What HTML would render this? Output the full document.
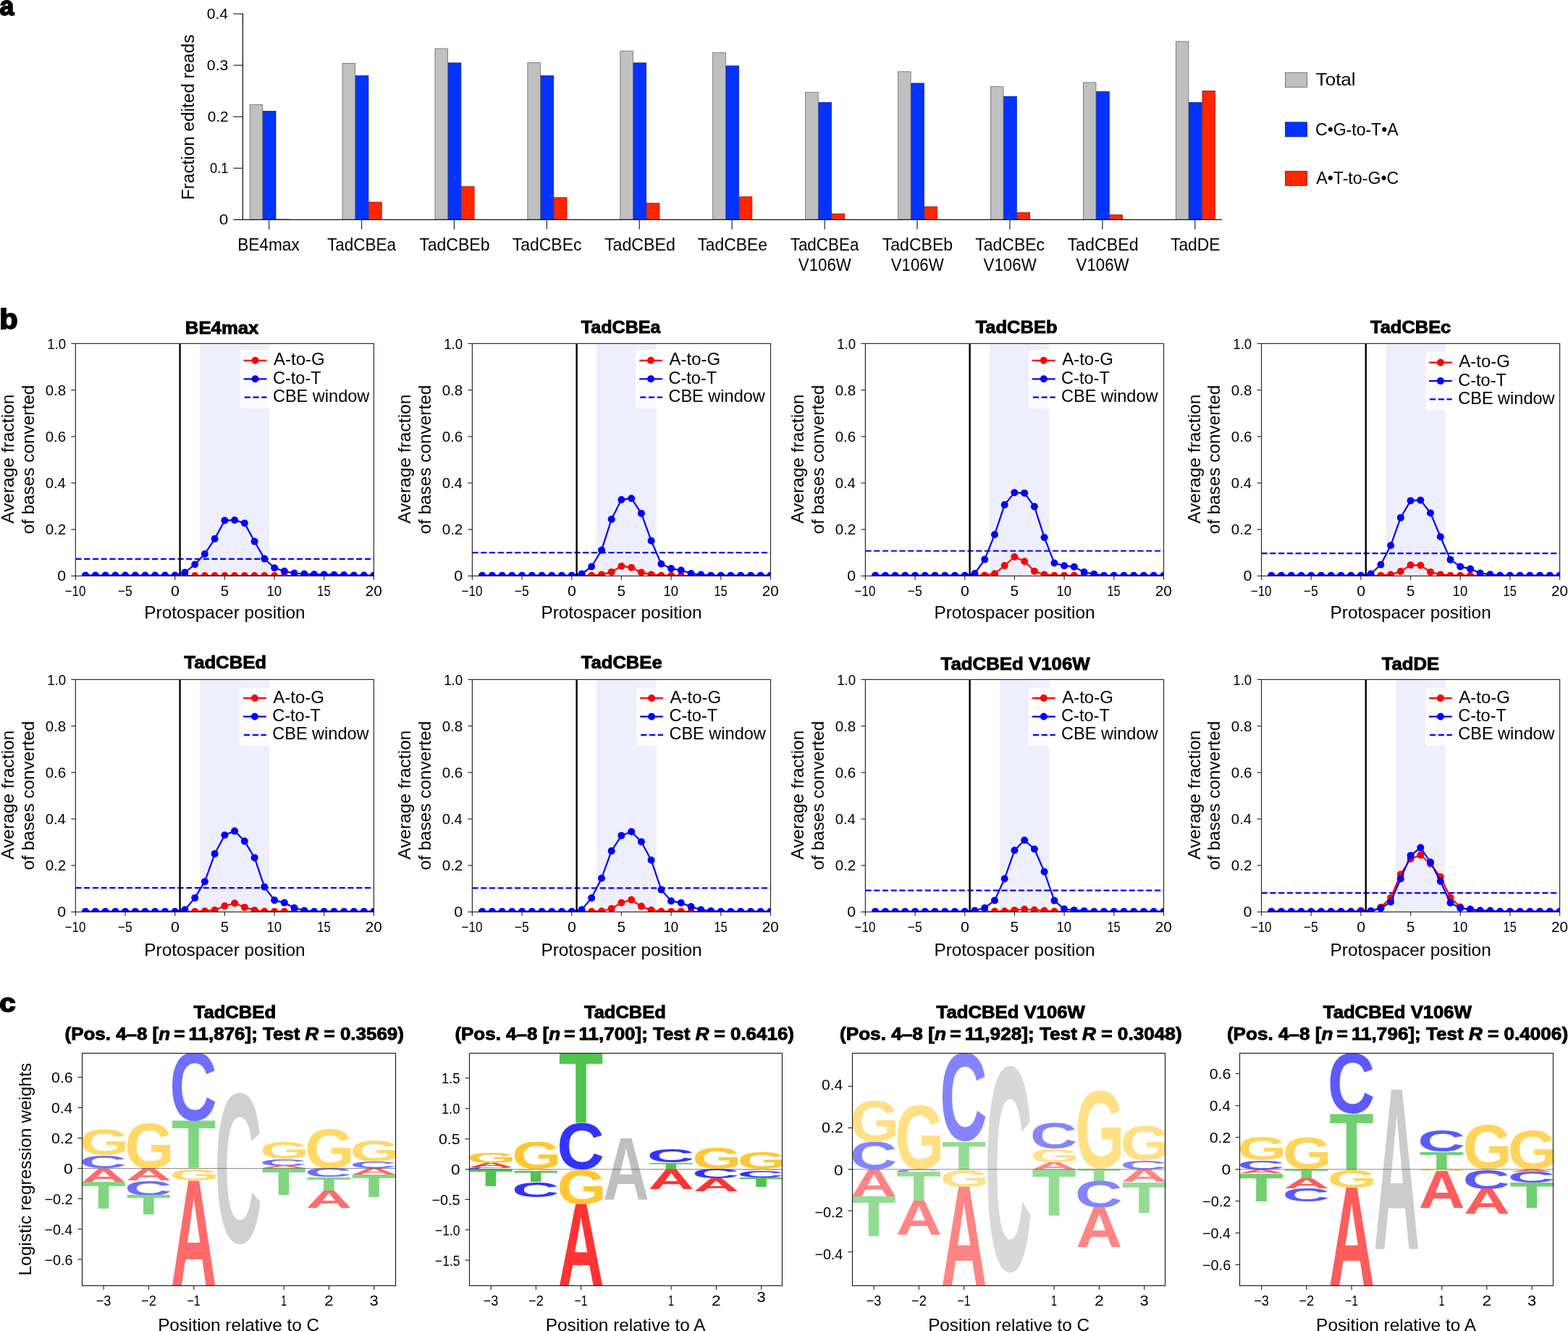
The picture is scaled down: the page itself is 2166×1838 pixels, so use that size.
<!DOCTYPE html>
<html lang="en">
<head>
<meta charset="utf-8">
<title>Figure</title>
<style>
html,body{margin:0;padding:0;background:#fff;}
body{width:2166px;height:1838px;overflow:hidden;}
svg{display:block;font-family:'Liberation Sans', sans-serif;}
</style>
</head>
<body>
<svg width="2166" height="1838" viewBox="0 0 2166 1838">
<defs>
<clipPath id="clipb0"><rect x="104.35" y="474.45" width="412.05" height="320.90"/></clipPath>
<clipPath id="clipb1"><rect x="652.40" y="474.45" width="412.05" height="320.90"/></clipPath>
<clipPath id="clipb2"><rect x="1195.40" y="474.45" width="412.05" height="320.90"/></clipPath>
<clipPath id="clipb3"><rect x="1742.55" y="474.45" width="412.05" height="320.90"/></clipPath>
<clipPath id="clipb4"><rect x="104.35" y="938.40" width="412.05" height="320.90"/></clipPath>
<clipPath id="clipb5"><rect x="652.40" y="938.40" width="412.05" height="320.90"/></clipPath>
<clipPath id="clipb6"><rect x="1195.40" y="938.40" width="412.05" height="320.90"/></clipPath>
<clipPath id="clipb7"><rect x="1742.55" y="938.40" width="412.05" height="320.90"/></clipPath>
<clipPath id="clipc0"><rect x="113.50" y="1454.45" width="433.00" height="321.00"/></clipPath>
<clipPath id="clipc1"><rect x="648.50" y="1454.45" width="432.00" height="321.00"/></clipPath>
<clipPath id="clipc2"><rect x="1177.50" y="1454.45" width="432.00" height="321.00"/></clipPath>
<clipPath id="clipc3"><rect x="1712.50" y="1454.45" width="433.00" height="321.00"/></clipPath>
</defs>
<rect x="0" y="0" width="2166" height="1838" fill="#ffffff"/>
<g id="panel-a">
<text x="-0.44" y="20.90" font-size="36.00" font-weight="bold" textLength="19.82" lengthAdjust="spacingAndGlyphs" fill="#000" stroke="#000" stroke-width="1.80" stroke-linejoin="miter" stroke-miterlimit="2">a</text>
<rect x="345.10" y="144.65" width="17.60" height="158.65" fill="#c0c0c0" stroke="#5a5a5a" stroke-width="0.70"/>
<rect x="363.40" y="153.45" width="17.60" height="149.85" fill="#0433ff" stroke="#021c8c" stroke-width="0.70"/>
<line x1="381.35" y1="303.00" x2="399.65" y2="303.00" stroke="#333" stroke-width="0.80"/>
<rect x="473.02" y="87.35" width="17.60" height="215.95" fill="#c0c0c0" stroke="#5a5a5a" stroke-width="0.70"/>
<rect x="491.32" y="104.55" width="17.60" height="198.75" fill="#0433ff" stroke="#021c8c" stroke-width="0.70"/>
<rect x="509.62" y="279.05" width="17.60" height="24.25" fill="#ff2600" stroke="#8c1500" stroke-width="0.70"/>
<rect x="600.94" y="67.05" width="17.60" height="236.25" fill="#c0c0c0" stroke="#5a5a5a" stroke-width="0.70"/>
<rect x="619.24" y="86.85" width="17.60" height="216.45" fill="#0433ff" stroke="#021c8c" stroke-width="0.70"/>
<rect x="637.54" y="257.65" width="17.60" height="45.65" fill="#ff2600" stroke="#8c1500" stroke-width="0.70"/>
<rect x="728.86" y="86.35" width="17.60" height="216.95" fill="#c0c0c0" stroke="#5a5a5a" stroke-width="0.70"/>
<rect x="747.16" y="104.55" width="17.60" height="198.75" fill="#0433ff" stroke="#021c8c" stroke-width="0.70"/>
<rect x="765.46" y="272.75" width="17.60" height="30.55" fill="#ff2600" stroke="#8c1500" stroke-width="0.70"/>
<rect x="856.78" y="70.65" width="17.60" height="232.65" fill="#c0c0c0" stroke="#5a5a5a" stroke-width="0.70"/>
<rect x="875.08" y="86.85" width="17.60" height="216.45" fill="#0433ff" stroke="#021c8c" stroke-width="0.70"/>
<rect x="893.38" y="280.65" width="17.60" height="22.65" fill="#ff2600" stroke="#8c1500" stroke-width="0.70"/>
<rect x="984.70" y="72.75" width="17.60" height="230.55" fill="#c0c0c0" stroke="#5a5a5a" stroke-width="0.70"/>
<rect x="1003.00" y="90.95" width="17.60" height="212.35" fill="#0433ff" stroke="#021c8c" stroke-width="0.70"/>
<rect x="1021.30" y="271.75" width="17.60" height="31.55" fill="#ff2600" stroke="#8c1500" stroke-width="0.70"/>
<rect x="1112.62" y="127.45" width="17.60" height="175.85" fill="#c0c0c0" stroke="#5a5a5a" stroke-width="0.70"/>
<rect x="1130.92" y="141.55" width="17.60" height="161.75" fill="#0433ff" stroke="#021c8c" stroke-width="0.70"/>
<rect x="1149.22" y="295.15" width="17.60" height="8.15" fill="#ff2600" stroke="#8c1500" stroke-width="0.70"/>
<rect x="1240.54" y="98.85" width="17.60" height="204.45" fill="#c0c0c0" stroke="#5a5a5a" stroke-width="0.70"/>
<rect x="1258.84" y="114.95" width="17.60" height="188.35" fill="#0433ff" stroke="#021c8c" stroke-width="0.70"/>
<rect x="1277.14" y="285.35" width="17.60" height="17.95" fill="#ff2600" stroke="#8c1500" stroke-width="0.70"/>
<rect x="1368.46" y="119.65" width="17.60" height="183.65" fill="#c0c0c0" stroke="#5a5a5a" stroke-width="0.70"/>
<rect x="1386.76" y="133.15" width="17.60" height="170.15" fill="#0433ff" stroke="#021c8c" stroke-width="0.70"/>
<rect x="1405.06" y="293.65" width="17.60" height="9.65" fill="#ff2600" stroke="#8c1500" stroke-width="0.70"/>
<rect x="1496.38" y="113.95" width="17.60" height="189.35" fill="#c0c0c0" stroke="#5a5a5a" stroke-width="0.70"/>
<rect x="1514.68" y="126.45" width="17.60" height="176.85" fill="#0433ff" stroke="#021c8c" stroke-width="0.70"/>
<rect x="1532.98" y="296.75" width="17.60" height="6.55" fill="#ff2600" stroke="#8c1500" stroke-width="0.70"/>
<rect x="1624.30" y="57.15" width="17.60" height="246.15" fill="#c0c0c0" stroke="#5a5a5a" stroke-width="0.70"/>
<rect x="1642.60" y="141.55" width="17.60" height="161.75" fill="#0433ff" stroke="#021c8c" stroke-width="0.70"/>
<rect x="1660.90" y="125.35" width="17.60" height="177.95" fill="#ff2600" stroke="#8c1500" stroke-width="0.70"/>
<line x1="335.40" y1="18.50" x2="335.40" y2="303.90" stroke="#111" stroke-width="1.25"/>
<line x1="322.40" y1="303.30" x2="1688.00" y2="303.30" stroke="#111" stroke-width="1.25"/>
<text x="302.82" y="310.40" font-size="19.80" textLength="12.57" lengthAdjust="spacingAndGlyphs" fill="#000">0</text>
<line x1="322.40" y1="232.25" x2="335.40" y2="232.25" stroke="#2b2b2b" stroke-width="1.25"/>
<text x="289.99" y="239.35" font-size="19.80" textLength="25.41" lengthAdjust="spacingAndGlyphs" fill="#000">0.1</text>
<line x1="322.40" y1="161.20" x2="335.40" y2="161.20" stroke="#2b2b2b" stroke-width="1.25"/>
<text x="286.69" y="168.30" font-size="19.80" textLength="28.85" lengthAdjust="spacingAndGlyphs" fill="#000">0.2</text>
<line x1="322.40" y1="90.15" x2="335.40" y2="90.15" stroke="#2b2b2b" stroke-width="1.25"/>
<text x="285.87" y="97.25" font-size="19.80" textLength="29.57" lengthAdjust="spacingAndGlyphs" fill="#000">0.3</text>
<line x1="322.40" y1="19.10" x2="335.40" y2="19.10" stroke="#2b2b2b" stroke-width="1.25"/>
<text x="285.67" y="26.20" font-size="19.80" textLength="29.45" lengthAdjust="spacingAndGlyphs" fill="#000">0.4</text>
<line x1="371.60" y1="303.30" x2="371.60" y2="316.70" stroke="#2b2b2b" stroke-width="1.25"/>
<text x="328.14" y="346.10" font-size="24.20" textLength="85.70" lengthAdjust="spacingAndGlyphs" fill="#000">BE4max</text>
<line x1="499.52" y1="303.30" x2="499.52" y2="316.70" stroke="#2b2b2b" stroke-width="1.25"/>
<text x="452.08" y="346.10" font-size="24.20" textLength="94.79" lengthAdjust="spacingAndGlyphs" fill="#000">TadCBEa</text>
<line x1="627.44" y1="303.30" x2="627.44" y2="316.70" stroke="#2b2b2b" stroke-width="1.25"/>
<text x="579.19" y="346.10" font-size="24.20" textLength="97.35" lengthAdjust="spacingAndGlyphs" fill="#000">TadCBEb</text>
<line x1="755.36" y1="303.30" x2="755.36" y2="316.70" stroke="#2b2b2b" stroke-width="1.25"/>
<text x="707.76" y="346.10" font-size="24.20" textLength="95.69" lengthAdjust="spacingAndGlyphs" fill="#000">TadCBEc</text>
<line x1="883.28" y1="303.30" x2="883.28" y2="316.70" stroke="#2b2b2b" stroke-width="1.25"/>
<text x="834.92" y="346.10" font-size="24.20" textLength="98.07" lengthAdjust="spacingAndGlyphs" fill="#000">TadCBEd</text>
<line x1="1011.20" y1="303.30" x2="1011.20" y2="316.70" stroke="#2b2b2b" stroke-width="1.25"/>
<text x="963.40" y="346.10" font-size="24.20" textLength="96.49" lengthAdjust="spacingAndGlyphs" fill="#000">TadCBEe</text>
<line x1="1139.12" y1="303.30" x2="1139.12" y2="316.70" stroke="#2b2b2b" stroke-width="1.25"/>
<text x="1091.68" y="346.10" font-size="24.20" textLength="94.79" lengthAdjust="spacingAndGlyphs" fill="#000">TadCBEa</text>
<text x="1102.77" y="373.70" font-size="24.20" textLength="73.07" lengthAdjust="spacingAndGlyphs" fill="#000">V106W</text>
<line x1="1267.04" y1="303.30" x2="1267.04" y2="316.70" stroke="#2b2b2b" stroke-width="1.25"/>
<text x="1218.79" y="346.10" font-size="24.20" textLength="97.35" lengthAdjust="spacingAndGlyphs" fill="#000">TadCBEb</text>
<text x="1230.69" y="373.70" font-size="24.20" textLength="73.07" lengthAdjust="spacingAndGlyphs" fill="#000">V106W</text>
<line x1="1394.96" y1="303.30" x2="1394.96" y2="316.70" stroke="#2b2b2b" stroke-width="1.25"/>
<text x="1347.36" y="346.10" font-size="24.20" textLength="95.69" lengthAdjust="spacingAndGlyphs" fill="#000">TadCBEc</text>
<text x="1358.61" y="373.70" font-size="24.20" textLength="73.07" lengthAdjust="spacingAndGlyphs" fill="#000">V106W</text>
<line x1="1522.88" y1="303.30" x2="1522.88" y2="316.70" stroke="#2b2b2b" stroke-width="1.25"/>
<text x="1474.52" y="346.10" font-size="24.20" textLength="98.07" lengthAdjust="spacingAndGlyphs" fill="#000">TadCBEd</text>
<text x="1486.53" y="373.70" font-size="24.20" textLength="73.07" lengthAdjust="spacingAndGlyphs" fill="#000">V106W</text>
<line x1="1650.80" y1="303.30" x2="1650.80" y2="316.70" stroke="#2b2b2b" stroke-width="1.25"/>
<text x="1617.01" y="346.10" font-size="24.20" textLength="68.44" lengthAdjust="spacingAndGlyphs" fill="#000">TadDE</text>
<text transform="translate(267.50 275.99) rotate(-90)" font-size="24.20" textLength="228.27" lengthAdjust="spacingAndGlyphs" fill="#000">Fraction edited reads</text>
<rect x="1775.50" y="100.30" width="30.10" height="20.00" fill="#c0c0c0" stroke="#5a5a5a" stroke-width="0.80"/>
<text x="1817.64" y="118.00" font-size="24.20" textLength="55.01" lengthAdjust="spacingAndGlyphs" fill="#000">Total</text>
<rect x="1775.50" y="168.80" width="30.10" height="20.00" fill="#0433ff" stroke="#021c8c" stroke-width="0.80"/>
<text x="1817.03" y="186.60" font-size="24.20" textLength="114.51" lengthAdjust="spacingAndGlyphs" fill="#000">C•G-to-T•A</text>
<rect x="1775.50" y="236.30" width="30.10" height="20.00" fill="#ff2600" stroke="#8c1500" stroke-width="0.80"/>
<text x="1818.16" y="254.30" font-size="24.20" textLength="114.22" lengthAdjust="spacingAndGlyphs" fill="#000">A•T-to-G•C</text>
</g>
<g id="panel-b">
<text x="-0.85" y="453.60" font-size="38.60" font-weight="bold" textLength="25.46" lengthAdjust="spacingAndGlyphs" fill="#000" stroke="#000" stroke-width="1.80" stroke-linejoin="miter" stroke-miterlimit="2">b</text>
<g id="plot-b0">
<text x="255.83" y="460.60" font-size="24.80" font-weight="bold" textLength="101.61" lengthAdjust="spacingAndGlyphs" fill="#000" stroke="#000" stroke-width="0.90" stroke-linejoin="miter" stroke-miterlimit="2">BE4max</text>
<g clip-path="url(#clipb0)">
<rect x="276.04" y="474.45" width="96.14" height="320.90" fill="#eeeefd" stroke="none" stroke-width="0.00"/>
<line x1="104.35" y1="771.96" x2="516.40" y2="771.96" stroke="#0000ff" stroke-width="2.20" stroke-dasharray="8.2 3.55"/>
<polyline fill="none" stroke="#ff0000" stroke-width="2.2" stroke-linejoin="round" points="118.1,795.0 131.8,795.0 145.6,795.0 159.3,795.0 173.0,795.0 186.8,795.0 200.5,795.0 214.2,795.0 228.0,795.0 241.7,795.0 255.4,795.0 269.2,795.0 282.9,795.0 296.6,795.0 310.4,795.0 324.1,795.0 337.8,795.0 351.6,795.0 365.3,795.0 379.1,795.0 392.8,795.0 406.5,795.0 420.3,795.0 434.0,795.0 447.7,795.0 461.5,795.0 475.2,795.0 488.9,795.0 502.7,795.0 516.4,795.0"/>
<g fill="#ff0000"><circle cx="118.1" cy="795.0" r="5.0"/><circle cx="131.8" cy="795.0" r="5.0"/><circle cx="145.6" cy="795.0" r="5.0"/><circle cx="159.3" cy="795.0" r="5.0"/><circle cx="173.0" cy="795.0" r="5.0"/><circle cx="186.8" cy="795.0" r="5.0"/><circle cx="200.5" cy="795.0" r="5.0"/><circle cx="214.2" cy="795.0" r="5.0"/><circle cx="228.0" cy="795.0" r="5.0"/><circle cx="241.7" cy="795.0" r="5.0"/><circle cx="255.4" cy="795.0" r="5.0"/><circle cx="269.2" cy="795.0" r="5.0"/><circle cx="282.9" cy="795.0" r="5.0"/><circle cx="296.6" cy="795.0" r="5.0"/><circle cx="310.4" cy="795.0" r="5.0"/><circle cx="324.1" cy="795.0" r="5.0"/><circle cx="337.8" cy="795.0" r="5.0"/><circle cx="351.6" cy="795.0" r="5.0"/><circle cx="365.3" cy="795.0" r="5.0"/><circle cx="379.1" cy="795.0" r="5.0"/><circle cx="392.8" cy="795.0" r="5.0"/><circle cx="406.5" cy="795.0" r="5.0"/><circle cx="420.3" cy="795.0" r="5.0"/><circle cx="434.0" cy="795.0" r="5.0"/><circle cx="447.7" cy="795.0" r="5.0"/><circle cx="461.5" cy="795.0" r="5.0"/><circle cx="475.2" cy="795.0" r="5.0"/><circle cx="488.9" cy="795.0" r="5.0"/><circle cx="502.7" cy="795.0" r="5.0"/><circle cx="516.4" cy="795.0" r="5.0"/></g>
<polyline fill="none" stroke="#0000ff" stroke-width="2.2" stroke-linejoin="round" points="118.1,794.5 131.8,794.5 145.6,794.5 159.3,794.5 173.0,794.5 186.8,794.5 200.5,794.5 214.2,794.5 228.0,794.5 241.7,794.5 255.4,790.4 269.2,779.5 282.9,765.0 296.6,744.1 310.4,718.8 324.1,718.2 337.8,722.4 351.6,747.7 365.3,771.6 379.1,784.2 392.8,788.8 406.5,791.5 420.3,792.5 434.0,793.1 447.7,793.4 461.5,793.7 475.2,794.1 488.9,794.5 502.7,794.5 516.4,794.5"/>
<g fill="#0000ff"><circle cx="118.1" cy="794.5" r="5.0"/><circle cx="131.8" cy="794.5" r="5.0"/><circle cx="145.6" cy="794.5" r="5.0"/><circle cx="159.3" cy="794.5" r="5.0"/><circle cx="173.0" cy="794.5" r="5.0"/><circle cx="186.8" cy="794.5" r="5.0"/><circle cx="200.5" cy="794.5" r="5.0"/><circle cx="214.2" cy="794.5" r="5.0"/><circle cx="228.0" cy="794.5" r="5.0"/><circle cx="241.7" cy="794.5" r="5.0"/><circle cx="255.4" cy="790.4" r="5.0"/><circle cx="269.2" cy="779.5" r="5.0"/><circle cx="282.9" cy="765.0" r="5.0"/><circle cx="296.6" cy="744.1" r="5.0"/><circle cx="310.4" cy="718.8" r="5.0"/><circle cx="324.1" cy="718.2" r="5.0"/><circle cx="337.8" cy="722.4" r="5.0"/><circle cx="351.6" cy="747.7" r="5.0"/><circle cx="365.3" cy="771.6" r="5.0"/><circle cx="379.1" cy="784.2" r="5.0"/><circle cx="392.8" cy="788.8" r="5.0"/><circle cx="406.5" cy="791.5" r="5.0"/><circle cx="420.3" cy="792.5" r="5.0"/><circle cx="434.0" cy="793.1" r="5.0"/><circle cx="447.7" cy="793.4" r="5.0"/><circle cx="461.5" cy="793.7" r="5.0"/><circle cx="475.2" cy="794.1" r="5.0"/><circle cx="488.9" cy="794.5" r="5.0"/><circle cx="502.7" cy="794.5" r="5.0"/><circle cx="516.4" cy="794.5" r="5.0"/></g>
<line x1="248.57" y1="474.45" x2="248.57" y2="795.35" stroke="#000" stroke-width="2.40"/>
</g>
<rect x="331.60" y="482.90" width="181.00" height="81.00" fill="#ffffff" stroke="none" stroke-width="0.00" rx="3.5" ry="3.5" fill-opacity="0.8"/>
<line x1="336.70" y1="497.80" x2="368.50" y2="497.80" stroke="#ff0000" stroke-width="2.20"/>
<circle cx="352.60" cy="497.80" r="5.0" fill="#ff0000"/>
<line x1="336.70" y1="523.30" x2="368.50" y2="523.30" stroke="#0000ff" stroke-width="2.20"/>
<circle cx="352.60" cy="523.30" r="5.0" fill="#0000ff"/>
<line x1="337.70" y1="548.60" x2="368.50" y2="548.60" stroke="#0000ff" stroke-width="2.20" stroke-dasharray="8.2 3.55"/>
<text x="378.05" y="504.30" font-size="24.00" textLength="70.54" lengthAdjust="spacingAndGlyphs" fill="#000">A-to-G</text>
<text x="376.90" y="529.80" font-size="24.00" textLength="66.74" lengthAdjust="spacingAndGlyphs" fill="#000">C-to-T</text>
<text x="376.90" y="555.10" font-size="24.00" textLength="133.44" lengthAdjust="spacingAndGlyphs" fill="#000">CBE window</text>
<rect x="104.35" y="474.45" width="412.05" height="320.90" fill="none" stroke="#2b2b2b" stroke-width="1.20"/>
<line x1="98.35" y1="795.35" x2="104.35" y2="795.35" stroke="#2b2b2b" stroke-width="1.20"/>
<text x="79.22" y="802.45" font-size="19.80" textLength="11.87" lengthAdjust="spacingAndGlyphs" fill="#000">0</text>
<line x1="98.35" y1="731.17" x2="104.35" y2="731.17" stroke="#2b2b2b" stroke-width="1.20"/>
<text x="62.65" y="738.27" font-size="19.80" textLength="28.64" lengthAdjust="spacingAndGlyphs" fill="#000">0.2</text>
<line x1="98.35" y1="666.99" x2="104.35" y2="666.99" stroke="#2b2b2b" stroke-width="1.20"/>
<text x="62.66" y="674.09" font-size="19.80" textLength="28.19" lengthAdjust="spacingAndGlyphs" fill="#000">0.4</text>
<line x1="98.35" y1="602.81" x2="104.35" y2="602.81" stroke="#2b2b2b" stroke-width="1.20"/>
<text x="62.65" y="609.91" font-size="19.80" textLength="28.50" lengthAdjust="spacingAndGlyphs" fill="#000">0.6</text>
<line x1="98.35" y1="538.63" x2="104.35" y2="538.63" stroke="#2b2b2b" stroke-width="1.20"/>
<text x="62.65" y="545.73" font-size="19.80" textLength="28.49" lengthAdjust="spacingAndGlyphs" fill="#000">0.8</text>
<line x1="98.35" y1="474.45" x2="104.35" y2="474.45" stroke="#2b2b2b" stroke-width="1.20"/>
<text x="65.13" y="481.55" font-size="19.80" textLength="25.84" lengthAdjust="spacingAndGlyphs" fill="#000">1.0</text>
<line x1="104.35" y1="795.35" x2="104.35" y2="800.75" stroke="#2b2b2b" stroke-width="1.20"/>
<text x="89.56" y="822.95" font-size="19.80" textLength="28.80" lengthAdjust="spacingAndGlyphs" fill="#000">−10</text>
<text x="162.66" y="822.95" font-size="19.80" textLength="20.00" lengthAdjust="spacingAndGlyphs" fill="#000">−5</text>
<line x1="241.70" y1="795.35" x2="241.70" y2="800.75" stroke="#2b2b2b" stroke-width="1.20"/>
<text x="236.07" y="822.95" font-size="19.80" textLength="11.87" lengthAdjust="spacingAndGlyphs" fill="#000">0</text>
<line x1="310.38" y1="795.35" x2="310.38" y2="800.75" stroke="#2b2b2b" stroke-width="1.20"/>
<text x="304.76" y="822.95" font-size="19.80" textLength="11.26" lengthAdjust="spacingAndGlyphs" fill="#000">5</text>
<line x1="379.05" y1="795.35" x2="379.05" y2="800.75" stroke="#2b2b2b" stroke-width="1.20"/>
<text x="368.39" y="822.95" font-size="19.80" textLength="20.64" lengthAdjust="spacingAndGlyphs" fill="#000">10</text>
<line x1="447.73" y1="795.35" x2="447.73" y2="800.75" stroke="#2b2b2b" stroke-width="1.20"/>
<text x="438.33" y="822.95" font-size="19.80" textLength="18.24" lengthAdjust="spacingAndGlyphs" fill="#000">15</text>
<line x1="516.40" y1="795.35" x2="516.40" y2="800.75" stroke="#2b2b2b" stroke-width="1.20"/>
<text x="504.81" y="822.95" font-size="19.80" textLength="22.94" lengthAdjust="spacingAndGlyphs" fill="#000">20</text>
<text x="199.35" y="853.75" font-size="24.00" textLength="222.18" lengthAdjust="spacingAndGlyphs" fill="#000">Protospacer position</text>
<text transform="translate(19.35 722.95) rotate(-90)" font-size="24.00" textLength="178.34" lengthAdjust="spacingAndGlyphs" fill="#000">Average fraction</text>
<text transform="translate(47.05 737.62) rotate(-90)" font-size="24.00" textLength="206.00" lengthAdjust="spacingAndGlyphs" fill="#000">of bases converted</text>
</g>
<g id="plot-b1">
<text x="802.87" y="460.20" font-size="24.80" font-weight="bold" textLength="109.62" lengthAdjust="spacingAndGlyphs" fill="#000" stroke="#000" stroke-width="0.90" stroke-linejoin="miter" stroke-miterlimit="2">TadCBEa</text>
<g clip-path="url(#clipb1)">
<rect x="824.09" y="474.45" width="82.41" height="320.90" fill="#eeeefd" stroke="none" stroke-width="0.00"/>
<line x1="652.40" y1="763.16" x2="1064.45" y2="763.16" stroke="#0000ff" stroke-width="2.20" stroke-dasharray="8.2 3.55"/>
<polyline fill="none" stroke="#ff0000" stroke-width="2.2" stroke-linejoin="round" points="666.1,795.0 679.9,795.0 693.6,795.0 707.3,795.0 721.1,795.0 734.8,795.0 748.5,795.0 762.3,795.0 776.0,795.0 789.8,795.0 803.5,795.0 817.2,794.7 831.0,793.6 844.7,789.9 858.4,781.7 872.2,783.7 885.9,790.4 899.6,793.4 913.4,794.7 927.1,794.7 940.8,795.0 954.6,795.0 968.3,795.0 982.0,795.0 995.8,795.0 1009.5,795.0 1023.2,795.0 1037.0,795.0 1050.7,795.0 1064.5,795.0"/>
<g fill="#ff0000"><circle cx="666.1" cy="795.0" r="5.0"/><circle cx="679.9" cy="795.0" r="5.0"/><circle cx="693.6" cy="795.0" r="5.0"/><circle cx="707.3" cy="795.0" r="5.0"/><circle cx="721.1" cy="795.0" r="5.0"/><circle cx="734.8" cy="795.0" r="5.0"/><circle cx="748.5" cy="795.0" r="5.0"/><circle cx="762.3" cy="795.0" r="5.0"/><circle cx="776.0" cy="795.0" r="5.0"/><circle cx="789.8" cy="795.0" r="5.0"/><circle cx="803.5" cy="795.0" r="5.0"/><circle cx="817.2" cy="794.7" r="5.0"/><circle cx="831.0" cy="793.6" r="5.0"/><circle cx="844.7" cy="789.9" r="5.0"/><circle cx="858.4" cy="781.7" r="5.0"/><circle cx="872.2" cy="783.7" r="5.0"/><circle cx="885.9" cy="790.4" r="5.0"/><circle cx="899.6" cy="793.4" r="5.0"/><circle cx="913.4" cy="794.7" r="5.0"/><circle cx="927.1" cy="794.7" r="5.0"/><circle cx="940.8" cy="795.0" r="5.0"/><circle cx="954.6" cy="795.0" r="5.0"/><circle cx="968.3" cy="795.0" r="5.0"/><circle cx="982.0" cy="795.0" r="5.0"/><circle cx="995.8" cy="795.0" r="5.0"/><circle cx="1009.5" cy="795.0" r="5.0"/><circle cx="1023.2" cy="795.0" r="5.0"/><circle cx="1037.0" cy="795.0" r="5.0"/><circle cx="1050.7" cy="795.0" r="5.0"/><circle cx="1064.5" cy="795.0" r="5.0"/></g>
<polyline fill="none" stroke="#0000ff" stroke-width="2.2" stroke-linejoin="round" points="666.1,794.7 679.9,794.7 693.6,794.7 707.3,794.7 721.1,794.7 734.8,794.7 748.5,794.7 762.3,794.7 776.0,794.7 789.8,794.7 803.5,792.5 817.2,782.5 831.0,759.7 844.7,717.1 858.4,690.1 872.2,688.2 885.9,708.9 899.6,746.7 913.4,778.7 927.1,785.1 940.8,787.5 954.6,792.0 968.3,793.6 982.0,794.7 995.8,794.7 1009.5,794.7 1023.2,794.7 1037.0,794.7 1050.7,794.7 1064.5,794.7"/>
<g fill="#0000ff"><circle cx="666.1" cy="794.7" r="5.0"/><circle cx="679.9" cy="794.7" r="5.0"/><circle cx="693.6" cy="794.7" r="5.0"/><circle cx="707.3" cy="794.7" r="5.0"/><circle cx="721.1" cy="794.7" r="5.0"/><circle cx="734.8" cy="794.7" r="5.0"/><circle cx="748.5" cy="794.7" r="5.0"/><circle cx="762.3" cy="794.7" r="5.0"/><circle cx="776.0" cy="794.7" r="5.0"/><circle cx="789.8" cy="794.7" r="5.0"/><circle cx="803.5" cy="792.5" r="5.0"/><circle cx="817.2" cy="782.5" r="5.0"/><circle cx="831.0" cy="759.7" r="5.0"/><circle cx="844.7" cy="717.1" r="5.0"/><circle cx="858.4" cy="690.1" r="5.0"/><circle cx="872.2" cy="688.2" r="5.0"/><circle cx="885.9" cy="708.9" r="5.0"/><circle cx="899.6" cy="746.7" r="5.0"/><circle cx="913.4" cy="778.7" r="5.0"/><circle cx="927.1" cy="785.1" r="5.0"/><circle cx="940.8" cy="787.5" r="5.0"/><circle cx="954.6" cy="792.0" r="5.0"/><circle cx="968.3" cy="793.6" r="5.0"/><circle cx="982.0" cy="794.7" r="5.0"/><circle cx="995.8" cy="794.7" r="5.0"/><circle cx="1009.5" cy="794.7" r="5.0"/><circle cx="1023.2" cy="794.7" r="5.0"/><circle cx="1037.0" cy="794.7" r="5.0"/><circle cx="1050.7" cy="794.7" r="5.0"/><circle cx="1064.5" cy="794.7" r="5.0"/></g>
<line x1="796.62" y1="474.45" x2="796.62" y2="795.35" stroke="#000" stroke-width="2.40"/>
</g>
<rect x="878.10" y="482.90" width="181.00" height="81.00" fill="#ffffff" stroke="none" stroke-width="0.00" rx="3.5" ry="3.5" fill-opacity="0.8"/>
<line x1="883.20" y1="497.80" x2="915.00" y2="497.80" stroke="#ff0000" stroke-width="2.20"/>
<circle cx="899.10" cy="497.80" r="5.0" fill="#ff0000"/>
<line x1="883.20" y1="523.30" x2="915.00" y2="523.30" stroke="#0000ff" stroke-width="2.20"/>
<circle cx="899.10" cy="523.30" r="5.0" fill="#0000ff"/>
<line x1="884.20" y1="548.60" x2="915.00" y2="548.60" stroke="#0000ff" stroke-width="2.20" stroke-dasharray="8.2 3.55"/>
<text x="924.55" y="504.30" font-size="24.00" textLength="70.54" lengthAdjust="spacingAndGlyphs" fill="#000">A-to-G</text>
<text x="923.40" y="529.80" font-size="24.00" textLength="66.74" lengthAdjust="spacingAndGlyphs" fill="#000">C-to-T</text>
<text x="923.40" y="555.10" font-size="24.00" textLength="133.44" lengthAdjust="spacingAndGlyphs" fill="#000">CBE window</text>
<rect x="652.40" y="474.45" width="412.05" height="320.90" fill="none" stroke="#2b2b2b" stroke-width="1.20"/>
<line x1="646.40" y1="795.35" x2="652.40" y2="795.35" stroke="#2b2b2b" stroke-width="1.20"/>
<text x="627.27" y="802.45" font-size="19.80" textLength="11.87" lengthAdjust="spacingAndGlyphs" fill="#000">0</text>
<line x1="646.40" y1="731.17" x2="652.40" y2="731.17" stroke="#2b2b2b" stroke-width="1.20"/>
<text x="610.70" y="738.27" font-size="19.80" textLength="28.64" lengthAdjust="spacingAndGlyphs" fill="#000">0.2</text>
<line x1="646.40" y1="666.99" x2="652.40" y2="666.99" stroke="#2b2b2b" stroke-width="1.20"/>
<text x="610.71" y="674.09" font-size="19.80" textLength="28.19" lengthAdjust="spacingAndGlyphs" fill="#000">0.4</text>
<line x1="646.40" y1="602.81" x2="652.40" y2="602.81" stroke="#2b2b2b" stroke-width="1.20"/>
<text x="610.70" y="609.91" font-size="19.80" textLength="28.50" lengthAdjust="spacingAndGlyphs" fill="#000">0.6</text>
<line x1="646.40" y1="538.63" x2="652.40" y2="538.63" stroke="#2b2b2b" stroke-width="1.20"/>
<text x="610.70" y="545.73" font-size="19.80" textLength="28.49" lengthAdjust="spacingAndGlyphs" fill="#000">0.8</text>
<line x1="646.40" y1="474.45" x2="652.40" y2="474.45" stroke="#2b2b2b" stroke-width="1.20"/>
<text x="613.18" y="481.55" font-size="19.80" textLength="25.84" lengthAdjust="spacingAndGlyphs" fill="#000">1.0</text>
<line x1="652.40" y1="795.35" x2="652.40" y2="800.75" stroke="#2b2b2b" stroke-width="1.20"/>
<text x="637.61" y="822.95" font-size="19.80" textLength="28.80" lengthAdjust="spacingAndGlyphs" fill="#000">−10</text>
<line x1="721.08" y1="795.35" x2="721.08" y2="800.75" stroke="#2b2b2b" stroke-width="1.20"/>
<text x="710.71" y="822.95" font-size="19.80" textLength="20.00" lengthAdjust="spacingAndGlyphs" fill="#000">−5</text>
<line x1="789.75" y1="795.35" x2="789.75" y2="800.75" stroke="#2b2b2b" stroke-width="1.20"/>
<text x="784.12" y="822.95" font-size="19.80" textLength="11.87" lengthAdjust="spacingAndGlyphs" fill="#000">0</text>
<line x1="858.42" y1="795.35" x2="858.42" y2="800.75" stroke="#2b2b2b" stroke-width="1.20"/>
<text x="852.81" y="822.95" font-size="19.80" textLength="11.26" lengthAdjust="spacingAndGlyphs" fill="#000">5</text>
<line x1="927.10" y1="795.35" x2="927.10" y2="800.75" stroke="#2b2b2b" stroke-width="1.20"/>
<text x="916.44" y="822.95" font-size="19.80" textLength="20.64" lengthAdjust="spacingAndGlyphs" fill="#000">10</text>
<line x1="995.78" y1="795.35" x2="995.78" y2="800.75" stroke="#2b2b2b" stroke-width="1.20"/>
<text x="986.38" y="822.95" font-size="19.80" textLength="18.24" lengthAdjust="spacingAndGlyphs" fill="#000">15</text>
<line x1="1064.45" y1="795.35" x2="1064.45" y2="800.75" stroke="#2b2b2b" stroke-width="1.20"/>
<text x="1052.86" y="822.95" font-size="19.80" textLength="22.94" lengthAdjust="spacingAndGlyphs" fill="#000">20</text>
<text x="747.40" y="853.75" font-size="24.00" textLength="222.18" lengthAdjust="spacingAndGlyphs" fill="#000">Protospacer position</text>
<text transform="translate(567.40 722.95) rotate(-90)" font-size="24.00" textLength="178.34" lengthAdjust="spacingAndGlyphs" fill="#000">Average fraction</text>
<text transform="translate(595.10 737.62) rotate(-90)" font-size="24.00" textLength="206.00" lengthAdjust="spacingAndGlyphs" fill="#000">of bases converted</text>
</g>
<g id="plot-b2">
<text x="1347.67" y="460.20" font-size="24.80" font-weight="bold" textLength="112.91" lengthAdjust="spacingAndGlyphs" fill="#000" stroke="#000" stroke-width="0.90" stroke-linejoin="miter" stroke-miterlimit="2">TadCBEb</text>
<g clip-path="url(#clipb2)">
<rect x="1367.09" y="474.45" width="82.41" height="320.90" fill="#eeeefd" stroke="none" stroke-width="0.00"/>
<line x1="1195.40" y1="760.76" x2="1607.45" y2="760.76" stroke="#0000ff" stroke-width="2.20" stroke-dasharray="8.2 3.55"/>
<polyline fill="none" stroke="#ff0000" stroke-width="2.2" stroke-linejoin="round" points="1209.1,795.0 1222.9,795.0 1236.6,795.0 1250.3,795.0 1264.1,795.0 1277.8,795.0 1291.5,795.0 1305.3,795.0 1319.0,795.0 1332.8,795.0 1346.5,795.0 1360.2,794.4 1374.0,792.3 1387.7,781.1 1401.4,769.0 1415.2,775.2 1428.9,788.8 1442.6,793.6 1456.4,794.7 1470.1,794.7 1483.8,794.7 1497.6,795.0 1511.3,795.0 1525.0,795.0 1538.8,795.0 1552.5,795.0 1566.2,795.0 1580.0,795.0 1593.7,795.0 1607.5,795.0"/>
<g fill="#ff0000"><circle cx="1209.1" cy="795.0" r="5.0"/><circle cx="1222.9" cy="795.0" r="5.0"/><circle cx="1236.6" cy="795.0" r="5.0"/><circle cx="1250.3" cy="795.0" r="5.0"/><circle cx="1264.1" cy="795.0" r="5.0"/><circle cx="1277.8" cy="795.0" r="5.0"/><circle cx="1291.5" cy="795.0" r="5.0"/><circle cx="1305.3" cy="795.0" r="5.0"/><circle cx="1319.0" cy="795.0" r="5.0"/><circle cx="1332.8" cy="795.0" r="5.0"/><circle cx="1346.5" cy="795.0" r="5.0"/><circle cx="1360.2" cy="794.4" r="5.0"/><circle cx="1374.0" cy="792.3" r="5.0"/><circle cx="1387.7" cy="781.1" r="5.0"/><circle cx="1401.4" cy="769.0" r="5.0"/><circle cx="1415.2" cy="775.2" r="5.0"/><circle cx="1428.9" cy="788.8" r="5.0"/><circle cx="1442.6" cy="793.6" r="5.0"/><circle cx="1456.4" cy="794.7" r="5.0"/><circle cx="1470.1" cy="794.7" r="5.0"/><circle cx="1483.8" cy="794.7" r="5.0"/><circle cx="1497.6" cy="795.0" r="5.0"/><circle cx="1511.3" cy="795.0" r="5.0"/><circle cx="1525.0" cy="795.0" r="5.0"/><circle cx="1538.8" cy="795.0" r="5.0"/><circle cx="1552.5" cy="795.0" r="5.0"/><circle cx="1566.2" cy="795.0" r="5.0"/><circle cx="1580.0" cy="795.0" r="5.0"/><circle cx="1593.7" cy="795.0" r="5.0"/><circle cx="1607.5" cy="795.0" r="5.0"/></g>
<polyline fill="none" stroke="#0000ff" stroke-width="2.2" stroke-linejoin="round" points="1209.1,794.7 1222.9,794.7 1236.6,794.7 1250.3,794.7 1264.1,794.7 1277.8,794.7 1291.5,794.7 1305.3,794.7 1319.0,794.7 1332.8,794.7 1346.5,792.0 1360.2,772.6 1374.0,738.2 1387.7,697.1 1401.4,680.3 1415.2,680.9 1428.9,699.6 1442.6,742.2 1456.4,777.5 1470.1,781.2 1483.8,782.8 1497.6,790.1 1511.3,792.8 1525.0,794.7 1538.8,794.7 1552.5,794.7 1566.2,794.7 1580.0,794.7 1593.7,794.7 1607.5,794.7"/>
<g fill="#0000ff"><circle cx="1209.1" cy="794.7" r="5.0"/><circle cx="1222.9" cy="794.7" r="5.0"/><circle cx="1236.6" cy="794.7" r="5.0"/><circle cx="1250.3" cy="794.7" r="5.0"/><circle cx="1264.1" cy="794.7" r="5.0"/><circle cx="1277.8" cy="794.7" r="5.0"/><circle cx="1291.5" cy="794.7" r="5.0"/><circle cx="1305.3" cy="794.7" r="5.0"/><circle cx="1319.0" cy="794.7" r="5.0"/><circle cx="1332.8" cy="794.7" r="5.0"/><circle cx="1346.5" cy="792.0" r="5.0"/><circle cx="1360.2" cy="772.6" r="5.0"/><circle cx="1374.0" cy="738.2" r="5.0"/><circle cx="1387.7" cy="697.1" r="5.0"/><circle cx="1401.4" cy="680.3" r="5.0"/><circle cx="1415.2" cy="680.9" r="5.0"/><circle cx="1428.9" cy="699.6" r="5.0"/><circle cx="1442.6" cy="742.2" r="5.0"/><circle cx="1456.4" cy="777.5" r="5.0"/><circle cx="1470.1" cy="781.2" r="5.0"/><circle cx="1483.8" cy="782.8" r="5.0"/><circle cx="1497.6" cy="790.1" r="5.0"/><circle cx="1511.3" cy="792.8" r="5.0"/><circle cx="1525.0" cy="794.7" r="5.0"/><circle cx="1538.8" cy="794.7" r="5.0"/><circle cx="1552.5" cy="794.7" r="5.0"/><circle cx="1566.2" cy="794.7" r="5.0"/><circle cx="1580.0" cy="794.7" r="5.0"/><circle cx="1593.7" cy="794.7" r="5.0"/><circle cx="1607.5" cy="794.7" r="5.0"/></g>
<line x1="1339.62" y1="474.45" x2="1339.62" y2="795.35" stroke="#000" stroke-width="2.40"/>
</g>
<rect x="1420.80" y="482.90" width="181.00" height="81.00" fill="#ffffff" stroke="none" stroke-width="0.00" rx="3.5" ry="3.5" fill-opacity="0.8"/>
<line x1="1425.90" y1="497.80" x2="1457.70" y2="497.80" stroke="#ff0000" stroke-width="2.20"/>
<circle cx="1441.80" cy="497.80" r="5.0" fill="#ff0000"/>
<line x1="1425.90" y1="523.30" x2="1457.70" y2="523.30" stroke="#0000ff" stroke-width="2.20"/>
<circle cx="1441.80" cy="523.30" r="5.0" fill="#0000ff"/>
<line x1="1426.90" y1="548.60" x2="1457.70" y2="548.60" stroke="#0000ff" stroke-width="2.20" stroke-dasharray="8.2 3.55"/>
<text x="1467.25" y="504.30" font-size="24.00" textLength="70.54" lengthAdjust="spacingAndGlyphs" fill="#000">A-to-G</text>
<text x="1466.10" y="529.80" font-size="24.00" textLength="66.74" lengthAdjust="spacingAndGlyphs" fill="#000">C-to-T</text>
<text x="1466.10" y="555.10" font-size="24.00" textLength="133.44" lengthAdjust="spacingAndGlyphs" fill="#000">CBE window</text>
<rect x="1195.40" y="474.45" width="412.05" height="320.90" fill="none" stroke="#2b2b2b" stroke-width="1.20"/>
<line x1="1189.40" y1="795.35" x2="1195.40" y2="795.35" stroke="#2b2b2b" stroke-width="1.20"/>
<text x="1170.27" y="802.45" font-size="19.80" textLength="11.87" lengthAdjust="spacingAndGlyphs" fill="#000">0</text>
<line x1="1189.40" y1="731.17" x2="1195.40" y2="731.17" stroke="#2b2b2b" stroke-width="1.20"/>
<text x="1153.70" y="738.27" font-size="19.80" textLength="28.64" lengthAdjust="spacingAndGlyphs" fill="#000">0.2</text>
<line x1="1189.40" y1="666.99" x2="1195.40" y2="666.99" stroke="#2b2b2b" stroke-width="1.20"/>
<text x="1153.71" y="674.09" font-size="19.80" textLength="28.19" lengthAdjust="spacingAndGlyphs" fill="#000">0.4</text>
<line x1="1189.40" y1="602.81" x2="1195.40" y2="602.81" stroke="#2b2b2b" stroke-width="1.20"/>
<text x="1153.70" y="609.91" font-size="19.80" textLength="28.50" lengthAdjust="spacingAndGlyphs" fill="#000">0.6</text>
<line x1="1189.40" y1="538.63" x2="1195.40" y2="538.63" stroke="#2b2b2b" stroke-width="1.20"/>
<text x="1153.70" y="545.73" font-size="19.80" textLength="28.49" lengthAdjust="spacingAndGlyphs" fill="#000">0.8</text>
<line x1="1189.40" y1="474.45" x2="1195.40" y2="474.45" stroke="#2b2b2b" stroke-width="1.20"/>
<text x="1156.18" y="481.55" font-size="19.80" textLength="25.84" lengthAdjust="spacingAndGlyphs" fill="#000">1.0</text>
<line x1="1195.40" y1="795.35" x2="1195.40" y2="800.75" stroke="#2b2b2b" stroke-width="1.20"/>
<text x="1180.61" y="822.95" font-size="19.80" textLength="28.80" lengthAdjust="spacingAndGlyphs" fill="#000">−10</text>
<line x1="1264.08" y1="795.35" x2="1264.08" y2="800.75" stroke="#2b2b2b" stroke-width="1.20"/>
<text x="1253.71" y="822.95" font-size="19.80" textLength="20.00" lengthAdjust="spacingAndGlyphs" fill="#000">−5</text>
<line x1="1332.75" y1="795.35" x2="1332.75" y2="800.75" stroke="#2b2b2b" stroke-width="1.20"/>
<text x="1327.12" y="822.95" font-size="19.80" textLength="11.87" lengthAdjust="spacingAndGlyphs" fill="#000">0</text>
<line x1="1401.43" y1="795.35" x2="1401.43" y2="800.75" stroke="#2b2b2b" stroke-width="1.20"/>
<text x="1395.81" y="822.95" font-size="19.80" textLength="11.26" lengthAdjust="spacingAndGlyphs" fill="#000">5</text>
<line x1="1470.10" y1="795.35" x2="1470.10" y2="800.75" stroke="#2b2b2b" stroke-width="1.20"/>
<text x="1459.44" y="822.95" font-size="19.80" textLength="20.64" lengthAdjust="spacingAndGlyphs" fill="#000">10</text>
<line x1="1538.78" y1="795.35" x2="1538.78" y2="800.75" stroke="#2b2b2b" stroke-width="1.20"/>
<text x="1529.38" y="822.95" font-size="19.80" textLength="18.24" lengthAdjust="spacingAndGlyphs" fill="#000">15</text>
<line x1="1607.45" y1="795.35" x2="1607.45" y2="800.75" stroke="#2b2b2b" stroke-width="1.20"/>
<text x="1595.86" y="822.95" font-size="19.80" textLength="22.94" lengthAdjust="spacingAndGlyphs" fill="#000">20</text>
<text x="1290.40" y="853.75" font-size="24.00" textLength="222.18" lengthAdjust="spacingAndGlyphs" fill="#000">Protospacer position</text>
<text transform="translate(1110.40 722.95) rotate(-90)" font-size="24.00" textLength="178.34" lengthAdjust="spacingAndGlyphs" fill="#000">Average fraction</text>
<text transform="translate(1138.10 737.62) rotate(-90)" font-size="24.00" textLength="206.00" lengthAdjust="spacingAndGlyphs" fill="#000">of bases converted</text>
</g>
<g id="plot-b3">
<text x="1893.07" y="460.20" font-size="24.80" font-weight="bold" textLength="111.21" lengthAdjust="spacingAndGlyphs" fill="#000" stroke="#000" stroke-width="0.90" stroke-linejoin="miter" stroke-miterlimit="2">TadCBEc</text>
<g clip-path="url(#clipb3)">
<rect x="1914.24" y="474.45" width="82.41" height="320.90" fill="#eeeefd" stroke="none" stroke-width="0.00"/>
<line x1="1742.55" y1="764.13" x2="2154.60" y2="764.13" stroke="#0000ff" stroke-width="2.20" stroke-dasharray="8.2 3.55"/>
<polyline fill="none" stroke="#ff0000" stroke-width="2.2" stroke-linejoin="round" points="1756.3,795.0 1770.0,795.0 1783.8,795.0 1797.5,795.0 1811.2,795.0 1825.0,795.0 1838.7,795.0 1852.4,795.0 1866.2,795.0 1879.9,795.0 1893.6,795.0 1907.4,794.7 1921.1,793.6 1934.8,789.1 1948.6,780.3 1962.3,780.7 1976.0,789.9 1989.8,793.4 2003.5,794.7 2017.2,794.7 2031.0,794.7 2044.7,795.0 2058.5,795.0 2072.2,795.0 2085.9,795.0 2099.7,795.0 2113.4,795.0 2127.1,795.0 2140.9,795.0 2154.6,795.0"/>
<g fill="#ff0000"><circle cx="1756.3" cy="795.0" r="5.0"/><circle cx="1770.0" cy="795.0" r="5.0"/><circle cx="1783.8" cy="795.0" r="5.0"/><circle cx="1797.5" cy="795.0" r="5.0"/><circle cx="1811.2" cy="795.0" r="5.0"/><circle cx="1825.0" cy="795.0" r="5.0"/><circle cx="1838.7" cy="795.0" r="5.0"/><circle cx="1852.4" cy="795.0" r="5.0"/><circle cx="1866.2" cy="795.0" r="5.0"/><circle cx="1879.9" cy="795.0" r="5.0"/><circle cx="1893.6" cy="795.0" r="5.0"/><circle cx="1907.4" cy="794.7" r="5.0"/><circle cx="1921.1" cy="793.6" r="5.0"/><circle cx="1934.8" cy="789.1" r="5.0"/><circle cx="1948.6" cy="780.3" r="5.0"/><circle cx="1962.3" cy="780.7" r="5.0"/><circle cx="1976.0" cy="789.9" r="5.0"/><circle cx="1989.8" cy="793.4" r="5.0"/><circle cx="2003.5" cy="794.7" r="5.0"/><circle cx="2017.2" cy="794.7" r="5.0"/><circle cx="2031.0" cy="794.7" r="5.0"/><circle cx="2044.7" cy="795.0" r="5.0"/><circle cx="2058.5" cy="795.0" r="5.0"/><circle cx="2072.2" cy="795.0" r="5.0"/><circle cx="2085.9" cy="795.0" r="5.0"/><circle cx="2099.7" cy="795.0" r="5.0"/><circle cx="2113.4" cy="795.0" r="5.0"/><circle cx="2127.1" cy="795.0" r="5.0"/><circle cx="2140.9" cy="795.0" r="5.0"/><circle cx="2154.6" cy="795.0" r="5.0"/></g>
<polyline fill="none" stroke="#0000ff" stroke-width="2.2" stroke-linejoin="round" points="1756.3,794.7 1770.0,794.7 1783.8,794.7 1797.5,794.7 1811.2,794.7 1825.0,794.7 1838.7,794.7 1852.4,794.7 1866.2,794.7 1879.9,794.7 1893.6,792.5 1907.4,779.8 1921.1,753.3 1934.8,714.9 1948.6,691.4 1962.3,690.7 1976.0,708.4 1989.8,741.2 2003.5,772.9 2017.2,782.4 2031.0,785.6 2044.7,791.5 2058.5,793.2 2072.2,794.7 2085.9,794.7 2099.7,794.7 2113.4,794.7 2127.1,794.7 2140.9,794.7 2154.6,794.7"/>
<g fill="#0000ff"><circle cx="1756.3" cy="794.7" r="5.0"/><circle cx="1770.0" cy="794.7" r="5.0"/><circle cx="1783.8" cy="794.7" r="5.0"/><circle cx="1797.5" cy="794.7" r="5.0"/><circle cx="1811.2" cy="794.7" r="5.0"/><circle cx="1825.0" cy="794.7" r="5.0"/><circle cx="1838.7" cy="794.7" r="5.0"/><circle cx="1852.4" cy="794.7" r="5.0"/><circle cx="1866.2" cy="794.7" r="5.0"/><circle cx="1879.9" cy="794.7" r="5.0"/><circle cx="1893.6" cy="792.5" r="5.0"/><circle cx="1907.4" cy="779.8" r="5.0"/><circle cx="1921.1" cy="753.3" r="5.0"/><circle cx="1934.8" cy="714.9" r="5.0"/><circle cx="1948.6" cy="691.4" r="5.0"/><circle cx="1962.3" cy="690.7" r="5.0"/><circle cx="1976.0" cy="708.4" r="5.0"/><circle cx="1989.8" cy="741.2" r="5.0"/><circle cx="2003.5" cy="772.9" r="5.0"/><circle cx="2017.2" cy="782.4" r="5.0"/><circle cx="2031.0" cy="785.6" r="5.0"/><circle cx="2044.7" cy="791.5" r="5.0"/><circle cx="2058.5" cy="793.2" r="5.0"/><circle cx="2072.2" cy="794.7" r="5.0"/><circle cx="2085.9" cy="794.7" r="5.0"/><circle cx="2099.7" cy="794.7" r="5.0"/><circle cx="2113.4" cy="794.7" r="5.0"/><circle cx="2127.1" cy="794.7" r="5.0"/><circle cx="2140.9" cy="794.7" r="5.0"/><circle cx="2154.6" cy="794.7" r="5.0"/></g>
<line x1="1886.77" y1="474.45" x2="1886.77" y2="795.35" stroke="#000" stroke-width="2.40"/>
</g>
<rect x="1968.90" y="485.70" width="181.00" height="81.00" fill="#ffffff" stroke="none" stroke-width="0.00" rx="3.5" ry="3.5" fill-opacity="0.8"/>
<line x1="1974.00" y1="500.60" x2="2005.80" y2="500.60" stroke="#ff0000" stroke-width="2.20"/>
<circle cx="1989.90" cy="500.60" r="5.0" fill="#ff0000"/>
<line x1="1974.00" y1="526.10" x2="2005.80" y2="526.10" stroke="#0000ff" stroke-width="2.20"/>
<circle cx="1989.90" cy="526.10" r="5.0" fill="#0000ff"/>
<line x1="1975.00" y1="551.40" x2="2005.80" y2="551.40" stroke="#0000ff" stroke-width="2.20" stroke-dasharray="8.2 3.55"/>
<text x="2015.35" y="507.10" font-size="24.00" textLength="70.54" lengthAdjust="spacingAndGlyphs" fill="#000">A-to-G</text>
<text x="2014.20" y="532.60" font-size="24.00" textLength="66.74" lengthAdjust="spacingAndGlyphs" fill="#000">C-to-T</text>
<text x="2014.20" y="557.90" font-size="24.00" textLength="133.44" lengthAdjust="spacingAndGlyphs" fill="#000">CBE window</text>
<rect x="1742.55" y="474.45" width="412.05" height="320.90" fill="none" stroke="#2b2b2b" stroke-width="1.20"/>
<line x1="1736.55" y1="795.35" x2="1742.55" y2="795.35" stroke="#2b2b2b" stroke-width="1.20"/>
<text x="1717.42" y="802.45" font-size="19.80" textLength="11.87" lengthAdjust="spacingAndGlyphs" fill="#000">0</text>
<line x1="1736.55" y1="731.17" x2="1742.55" y2="731.17" stroke="#2b2b2b" stroke-width="1.20"/>
<text x="1700.85" y="738.27" font-size="19.80" textLength="28.64" lengthAdjust="spacingAndGlyphs" fill="#000">0.2</text>
<line x1="1736.55" y1="666.99" x2="1742.55" y2="666.99" stroke="#2b2b2b" stroke-width="1.20"/>
<text x="1700.86" y="674.09" font-size="19.80" textLength="28.19" lengthAdjust="spacingAndGlyphs" fill="#000">0.4</text>
<line x1="1736.55" y1="602.81" x2="1742.55" y2="602.81" stroke="#2b2b2b" stroke-width="1.20"/>
<text x="1700.85" y="609.91" font-size="19.80" textLength="28.50" lengthAdjust="spacingAndGlyphs" fill="#000">0.6</text>
<line x1="1736.55" y1="538.63" x2="1742.55" y2="538.63" stroke="#2b2b2b" stroke-width="1.20"/>
<text x="1700.85" y="545.73" font-size="19.80" textLength="28.49" lengthAdjust="spacingAndGlyphs" fill="#000">0.8</text>
<line x1="1736.55" y1="474.45" x2="1742.55" y2="474.45" stroke="#2b2b2b" stroke-width="1.20"/>
<text x="1703.33" y="481.55" font-size="19.80" textLength="25.84" lengthAdjust="spacingAndGlyphs" fill="#000">1.0</text>
<line x1="1742.55" y1="795.35" x2="1742.55" y2="800.75" stroke="#2b2b2b" stroke-width="1.20"/>
<text x="1727.76" y="822.95" font-size="19.80" textLength="28.80" lengthAdjust="spacingAndGlyphs" fill="#000">−10</text>
<line x1="1811.22" y1="795.35" x2="1811.22" y2="800.75" stroke="#2b2b2b" stroke-width="1.20"/>
<text x="1800.86" y="822.95" font-size="19.80" textLength="20.00" lengthAdjust="spacingAndGlyphs" fill="#000">−5</text>
<line x1="1879.90" y1="795.35" x2="1879.90" y2="800.75" stroke="#2b2b2b" stroke-width="1.20"/>
<text x="1874.27" y="822.95" font-size="19.80" textLength="11.87" lengthAdjust="spacingAndGlyphs" fill="#000">0</text>
<line x1="1948.58" y1="795.35" x2="1948.58" y2="800.75" stroke="#2b2b2b" stroke-width="1.20"/>
<text x="1942.96" y="822.95" font-size="19.80" textLength="11.26" lengthAdjust="spacingAndGlyphs" fill="#000">5</text>
<line x1="2017.25" y1="795.35" x2="2017.25" y2="800.75" stroke="#2b2b2b" stroke-width="1.20"/>
<text x="2006.59" y="822.95" font-size="19.80" textLength="20.64" lengthAdjust="spacingAndGlyphs" fill="#000">10</text>
<line x1="2085.93" y1="795.35" x2="2085.93" y2="800.75" stroke="#2b2b2b" stroke-width="1.20"/>
<text x="2076.53" y="822.95" font-size="19.80" textLength="18.24" lengthAdjust="spacingAndGlyphs" fill="#000">15</text>
<line x1="2154.60" y1="795.35" x2="2154.60" y2="800.75" stroke="#2b2b2b" stroke-width="1.20"/>
<text x="2143.01" y="822.95" font-size="19.80" textLength="22.94" lengthAdjust="spacingAndGlyphs" fill="#000">20</text>
<text x="1837.55" y="853.75" font-size="24.00" textLength="222.18" lengthAdjust="spacingAndGlyphs" fill="#000">Protospacer position</text>
<text transform="translate(1657.55 722.95) rotate(-90)" font-size="24.00" textLength="178.34" lengthAdjust="spacingAndGlyphs" fill="#000">Average fraction</text>
<text transform="translate(1685.25 737.62) rotate(-90)" font-size="24.00" textLength="206.00" lengthAdjust="spacingAndGlyphs" fill="#000">of bases converted</text>
</g>
<g id="plot-b4">
<text x="254.37" y="923.20" font-size="24.80" font-weight="bold" textLength="113.65" lengthAdjust="spacingAndGlyphs" fill="#000" stroke="#000" stroke-width="0.90" stroke-linejoin="miter" stroke-miterlimit="2">TadCBEd</text>
<g clip-path="url(#clipb4)">
<rect x="276.04" y="938.40" width="96.14" height="320.90" fill="#eeeefd" stroke="none" stroke-width="0.00"/>
<line x1="104.35" y1="1226.18" x2="516.40" y2="1226.18" stroke="#0000ff" stroke-width="2.20" stroke-dasharray="8.2 3.55"/>
<polyline fill="none" stroke="#ff0000" stroke-width="2.2" stroke-linejoin="round" points="118.1,1259.0 131.8,1259.0 145.6,1259.0 159.3,1259.0 173.0,1259.0 186.8,1259.0 200.5,1259.0 214.2,1259.0 228.0,1259.0 241.7,1259.0 255.4,1259.0 269.2,1258.7 282.9,1258.2 296.6,1256.7 310.4,1251.1 324.1,1247.3 337.8,1252.9 351.6,1256.9 365.3,1258.5 379.1,1258.7 392.8,1258.7 406.5,1259.0 420.3,1259.0 434.0,1259.0 447.7,1259.0 461.5,1259.0 475.2,1259.0 488.9,1259.0 502.7,1259.0 516.4,1259.0"/>
<g fill="#ff0000"><circle cx="118.1" cy="1259.0" r="5.0"/><circle cx="131.8" cy="1259.0" r="5.0"/><circle cx="145.6" cy="1259.0" r="5.0"/><circle cx="159.3" cy="1259.0" r="5.0"/><circle cx="173.0" cy="1259.0" r="5.0"/><circle cx="186.8" cy="1259.0" r="5.0"/><circle cx="200.5" cy="1259.0" r="5.0"/><circle cx="214.2" cy="1259.0" r="5.0"/><circle cx="228.0" cy="1259.0" r="5.0"/><circle cx="241.7" cy="1259.0" r="5.0"/><circle cx="255.4" cy="1259.0" r="5.0"/><circle cx="269.2" cy="1258.7" r="5.0"/><circle cx="282.9" cy="1258.2" r="5.0"/><circle cx="296.6" cy="1256.7" r="5.0"/><circle cx="310.4" cy="1251.1" r="5.0"/><circle cx="324.1" cy="1247.3" r="5.0"/><circle cx="337.8" cy="1252.9" r="5.0"/><circle cx="351.6" cy="1256.9" r="5.0"/><circle cx="365.3" cy="1258.5" r="5.0"/><circle cx="379.1" cy="1258.7" r="5.0"/><circle cx="392.8" cy="1258.7" r="5.0"/><circle cx="406.5" cy="1259.0" r="5.0"/><circle cx="420.3" cy="1259.0" r="5.0"/><circle cx="434.0" cy="1259.0" r="5.0"/><circle cx="447.7" cy="1259.0" r="5.0"/><circle cx="461.5" cy="1259.0" r="5.0"/><circle cx="475.2" cy="1259.0" r="5.0"/><circle cx="488.9" cy="1259.0" r="5.0"/><circle cx="502.7" cy="1259.0" r="5.0"/><circle cx="516.4" cy="1259.0" r="5.0"/></g>
<polyline fill="none" stroke="#0000ff" stroke-width="2.2" stroke-linejoin="round" points="118.1,1258.7 131.8,1258.7 145.6,1258.7 159.3,1258.7 173.0,1258.7 186.8,1258.7 200.5,1258.7 214.2,1258.7 228.0,1258.7 241.7,1258.7 255.4,1256.3 269.2,1239.9 282.9,1217.4 296.6,1179.1 310.4,1153.2 324.1,1147.6 337.8,1161.6 351.6,1184.4 365.3,1224.8 379.1,1243.1 392.8,1246.6 406.5,1253.7 420.3,1257.4 434.0,1258.7 447.7,1258.7 461.5,1258.7 475.2,1258.7 488.9,1258.7 502.7,1258.7 516.4,1258.7"/>
<g fill="#0000ff"><circle cx="118.1" cy="1258.7" r="5.0"/><circle cx="131.8" cy="1258.7" r="5.0"/><circle cx="145.6" cy="1258.7" r="5.0"/><circle cx="159.3" cy="1258.7" r="5.0"/><circle cx="173.0" cy="1258.7" r="5.0"/><circle cx="186.8" cy="1258.7" r="5.0"/><circle cx="200.5" cy="1258.7" r="5.0"/><circle cx="214.2" cy="1258.7" r="5.0"/><circle cx="228.0" cy="1258.7" r="5.0"/><circle cx="241.7" cy="1258.7" r="5.0"/><circle cx="255.4" cy="1256.3" r="5.0"/><circle cx="269.2" cy="1239.9" r="5.0"/><circle cx="282.9" cy="1217.4" r="5.0"/><circle cx="296.6" cy="1179.1" r="5.0"/><circle cx="310.4" cy="1153.2" r="5.0"/><circle cx="324.1" cy="1147.6" r="5.0"/><circle cx="337.8" cy="1161.6" r="5.0"/><circle cx="351.6" cy="1184.4" r="5.0"/><circle cx="365.3" cy="1224.8" r="5.0"/><circle cx="379.1" cy="1243.1" r="5.0"/><circle cx="392.8" cy="1246.6" r="5.0"/><circle cx="406.5" cy="1253.7" r="5.0"/><circle cx="420.3" cy="1257.4" r="5.0"/><circle cx="434.0" cy="1258.7" r="5.0"/><circle cx="447.7" cy="1258.7" r="5.0"/><circle cx="461.5" cy="1258.7" r="5.0"/><circle cx="475.2" cy="1258.7" r="5.0"/><circle cx="488.9" cy="1258.7" r="5.0"/><circle cx="502.7" cy="1258.7" r="5.0"/><circle cx="516.4" cy="1258.7" r="5.0"/></g>
<line x1="248.57" y1="938.40" x2="248.57" y2="1259.30" stroke="#000" stroke-width="2.40"/>
</g>
<rect x="330.90" y="949.15" width="181.00" height="81.00" fill="#ffffff" stroke="none" stroke-width="0.00" rx="3.5" ry="3.5" fill-opacity="0.8"/>
<line x1="336.00" y1="964.05" x2="367.80" y2="964.05" stroke="#ff0000" stroke-width="2.20"/>
<circle cx="351.90" cy="964.05" r="5.0" fill="#ff0000"/>
<line x1="336.00" y1="989.55" x2="367.80" y2="989.55" stroke="#0000ff" stroke-width="2.20"/>
<circle cx="351.90" cy="989.55" r="5.0" fill="#0000ff"/>
<line x1="337.00" y1="1014.85" x2="367.80" y2="1014.85" stroke="#0000ff" stroke-width="2.20" stroke-dasharray="8.2 3.55"/>
<text x="377.35" y="970.55" font-size="24.00" textLength="70.54" lengthAdjust="spacingAndGlyphs" fill="#000">A-to-G</text>
<text x="376.20" y="996.05" font-size="24.00" textLength="66.74" lengthAdjust="spacingAndGlyphs" fill="#000">C-to-T</text>
<text x="376.20" y="1021.35" font-size="24.00" textLength="133.44" lengthAdjust="spacingAndGlyphs" fill="#000">CBE window</text>
<rect x="104.35" y="938.40" width="412.05" height="320.90" fill="none" stroke="#2b2b2b" stroke-width="1.20"/>
<line x1="98.35" y1="1259.30" x2="104.35" y2="1259.30" stroke="#2b2b2b" stroke-width="1.20"/>
<text x="79.22" y="1266.40" font-size="19.80" textLength="11.87" lengthAdjust="spacingAndGlyphs" fill="#000">0</text>
<line x1="98.35" y1="1195.12" x2="104.35" y2="1195.12" stroke="#2b2b2b" stroke-width="1.20"/>
<text x="62.65" y="1202.22" font-size="19.80" textLength="28.64" lengthAdjust="spacingAndGlyphs" fill="#000">0.2</text>
<line x1="98.35" y1="1130.94" x2="104.35" y2="1130.94" stroke="#2b2b2b" stroke-width="1.20"/>
<text x="62.66" y="1138.04" font-size="19.80" textLength="28.19" lengthAdjust="spacingAndGlyphs" fill="#000">0.4</text>
<line x1="98.35" y1="1066.76" x2="104.35" y2="1066.76" stroke="#2b2b2b" stroke-width="1.20"/>
<text x="62.65" y="1073.86" font-size="19.80" textLength="28.50" lengthAdjust="spacingAndGlyphs" fill="#000">0.6</text>
<line x1="98.35" y1="1002.58" x2="104.35" y2="1002.58" stroke="#2b2b2b" stroke-width="1.20"/>
<text x="62.65" y="1009.68" font-size="19.80" textLength="28.49" lengthAdjust="spacingAndGlyphs" fill="#000">0.8</text>
<line x1="98.35" y1="938.40" x2="104.35" y2="938.40" stroke="#2b2b2b" stroke-width="1.20"/>
<text x="65.13" y="945.50" font-size="19.80" textLength="25.84" lengthAdjust="spacingAndGlyphs" fill="#000">1.0</text>
<line x1="104.35" y1="1259.30" x2="104.35" y2="1264.70" stroke="#2b2b2b" stroke-width="1.20"/>
<text x="89.56" y="1286.90" font-size="19.80" textLength="28.80" lengthAdjust="spacingAndGlyphs" fill="#000">−10</text>
<line x1="173.03" y1="1259.30" x2="173.03" y2="1264.70" stroke="#2b2b2b" stroke-width="1.20"/>
<text x="162.66" y="1286.90" font-size="19.80" textLength="20.00" lengthAdjust="spacingAndGlyphs" fill="#000">−5</text>
<line x1="241.70" y1="1259.30" x2="241.70" y2="1264.70" stroke="#2b2b2b" stroke-width="1.20"/>
<text x="236.07" y="1286.90" font-size="19.80" textLength="11.87" lengthAdjust="spacingAndGlyphs" fill="#000">0</text>
<line x1="310.38" y1="1259.30" x2="310.38" y2="1264.70" stroke="#2b2b2b" stroke-width="1.20"/>
<text x="304.76" y="1286.90" font-size="19.80" textLength="11.26" lengthAdjust="spacingAndGlyphs" fill="#000">5</text>
<line x1="379.05" y1="1259.30" x2="379.05" y2="1264.70" stroke="#2b2b2b" stroke-width="1.20"/>
<text x="368.39" y="1286.90" font-size="19.80" textLength="20.64" lengthAdjust="spacingAndGlyphs" fill="#000">10</text>
<line x1="447.73" y1="1259.30" x2="447.73" y2="1264.70" stroke="#2b2b2b" stroke-width="1.20"/>
<text x="438.33" y="1286.90" font-size="19.80" textLength="18.24" lengthAdjust="spacingAndGlyphs" fill="#000">15</text>
<line x1="516.40" y1="1259.30" x2="516.40" y2="1264.70" stroke="#2b2b2b" stroke-width="1.20"/>
<text x="504.81" y="1286.90" font-size="19.80" textLength="22.94" lengthAdjust="spacingAndGlyphs" fill="#000">20</text>
<text x="199.35" y="1319.80" font-size="24.00" textLength="222.18" lengthAdjust="spacingAndGlyphs" fill="#000">Protospacer position</text>
<text transform="translate(19.35 1186.90) rotate(-90)" font-size="24.00" textLength="178.34" lengthAdjust="spacingAndGlyphs" fill="#000">Average fraction</text>
<text transform="translate(47.05 1201.57) rotate(-90)" font-size="24.00" textLength="206.00" lengthAdjust="spacingAndGlyphs" fill="#000">of bases converted</text>
</g>
<g id="plot-b5">
<text x="802.87" y="923.20" font-size="24.80" font-weight="bold" textLength="111.74" lengthAdjust="spacingAndGlyphs" fill="#000" stroke="#000" stroke-width="0.90" stroke-linejoin="miter" stroke-miterlimit="2">TadCBEe</text>
<g clip-path="url(#clipb5)">
<rect x="824.09" y="938.40" width="82.41" height="320.90" fill="#eeeefd" stroke="none" stroke-width="0.00"/>
<line x1="652.40" y1="1226.38" x2="1064.45" y2="1226.38" stroke="#0000ff" stroke-width="2.20" stroke-dasharray="8.2 3.55"/>
<polyline fill="none" stroke="#ff0000" stroke-width="2.2" stroke-linejoin="round" points="666.1,1259.0 679.9,1259.0 693.6,1259.0 707.3,1259.0 721.1,1259.0 734.8,1259.0 748.5,1259.0 762.3,1259.0 776.0,1259.0 789.8,1259.0 803.5,1259.0 817.2,1258.7 831.0,1258.2 844.7,1254.7 858.4,1246.5 872.2,1242.6 885.9,1251.6 899.6,1256.7 913.4,1258.5 927.1,1258.7 940.8,1258.7 954.6,1259.0 968.3,1259.0 982.0,1259.0 995.8,1259.0 1009.5,1259.0 1023.2,1259.0 1037.0,1259.0 1050.7,1259.0 1064.5,1259.0"/>
<g fill="#ff0000"><circle cx="666.1" cy="1259.0" r="5.0"/><circle cx="679.9" cy="1259.0" r="5.0"/><circle cx="693.6" cy="1259.0" r="5.0"/><circle cx="707.3" cy="1259.0" r="5.0"/><circle cx="721.1" cy="1259.0" r="5.0"/><circle cx="734.8" cy="1259.0" r="5.0"/><circle cx="748.5" cy="1259.0" r="5.0"/><circle cx="762.3" cy="1259.0" r="5.0"/><circle cx="776.0" cy="1259.0" r="5.0"/><circle cx="789.8" cy="1259.0" r="5.0"/><circle cx="803.5" cy="1259.0" r="5.0"/><circle cx="817.2" cy="1258.7" r="5.0"/><circle cx="831.0" cy="1258.2" r="5.0"/><circle cx="844.7" cy="1254.7" r="5.0"/><circle cx="858.4" cy="1246.5" r="5.0"/><circle cx="872.2" cy="1242.6" r="5.0"/><circle cx="885.9" cy="1251.6" r="5.0"/><circle cx="899.6" cy="1256.7" r="5.0"/><circle cx="913.4" cy="1258.5" r="5.0"/><circle cx="927.1" cy="1258.7" r="5.0"/><circle cx="940.8" cy="1258.7" r="5.0"/><circle cx="954.6" cy="1259.0" r="5.0"/><circle cx="968.3" cy="1259.0" r="5.0"/><circle cx="982.0" cy="1259.0" r="5.0"/><circle cx="995.8" cy="1259.0" r="5.0"/><circle cx="1009.5" cy="1259.0" r="5.0"/><circle cx="1023.2" cy="1259.0" r="5.0"/><circle cx="1037.0" cy="1259.0" r="5.0"/><circle cx="1050.7" cy="1259.0" r="5.0"/><circle cx="1064.5" cy="1259.0" r="5.0"/></g>
<polyline fill="none" stroke="#0000ff" stroke-width="2.2" stroke-linejoin="round" points="666.1,1258.7 679.9,1258.7 693.6,1258.7 707.3,1258.7 721.1,1258.7 734.8,1258.7 748.5,1258.7 762.3,1258.7 776.0,1258.7 789.8,1258.7 803.5,1256.3 817.2,1240.1 831.0,1212.7 844.7,1175.1 858.4,1153.9 872.2,1148.4 885.9,1162.4 899.6,1187.8 913.4,1228.6 927.1,1244.2 940.8,1246.8 954.6,1252.1 968.3,1256.3 982.0,1257.9 995.8,1258.7 1009.5,1258.7 1023.2,1258.7 1037.0,1258.7 1050.7,1258.7 1064.5,1258.7"/>
<g fill="#0000ff"><circle cx="666.1" cy="1258.7" r="5.0"/><circle cx="679.9" cy="1258.7" r="5.0"/><circle cx="693.6" cy="1258.7" r="5.0"/><circle cx="707.3" cy="1258.7" r="5.0"/><circle cx="721.1" cy="1258.7" r="5.0"/><circle cx="734.8" cy="1258.7" r="5.0"/><circle cx="748.5" cy="1258.7" r="5.0"/><circle cx="762.3" cy="1258.7" r="5.0"/><circle cx="776.0" cy="1258.7" r="5.0"/><circle cx="789.8" cy="1258.7" r="5.0"/><circle cx="803.5" cy="1256.3" r="5.0"/><circle cx="817.2" cy="1240.1" r="5.0"/><circle cx="831.0" cy="1212.7" r="5.0"/><circle cx="844.7" cy="1175.1" r="5.0"/><circle cx="858.4" cy="1153.9" r="5.0"/><circle cx="872.2" cy="1148.4" r="5.0"/><circle cx="885.9" cy="1162.4" r="5.0"/><circle cx="899.6" cy="1187.8" r="5.0"/><circle cx="913.4" cy="1228.6" r="5.0"/><circle cx="927.1" cy="1244.2" r="5.0"/><circle cx="940.8" cy="1246.8" r="5.0"/><circle cx="954.6" cy="1252.1" r="5.0"/><circle cx="968.3" cy="1256.3" r="5.0"/><circle cx="982.0" cy="1257.9" r="5.0"/><circle cx="995.8" cy="1258.7" r="5.0"/><circle cx="1009.5" cy="1258.7" r="5.0"/><circle cx="1023.2" cy="1258.7" r="5.0"/><circle cx="1037.0" cy="1258.7" r="5.0"/><circle cx="1050.7" cy="1258.7" r="5.0"/><circle cx="1064.5" cy="1258.7" r="5.0"/></g>
<line x1="796.62" y1="938.40" x2="796.62" y2="1259.30" stroke="#000" stroke-width="2.40"/>
</g>
<rect x="879.10" y="949.15" width="181.00" height="81.00" fill="#ffffff" stroke="none" stroke-width="0.00" rx="3.5" ry="3.5" fill-opacity="0.8"/>
<line x1="884.20" y1="964.05" x2="916.00" y2="964.05" stroke="#ff0000" stroke-width="2.20"/>
<circle cx="900.10" cy="964.05" r="5.0" fill="#ff0000"/>
<line x1="884.20" y1="989.55" x2="916.00" y2="989.55" stroke="#0000ff" stroke-width="2.20"/>
<circle cx="900.10" cy="989.55" r="5.0" fill="#0000ff"/>
<line x1="885.20" y1="1014.85" x2="916.00" y2="1014.85" stroke="#0000ff" stroke-width="2.20" stroke-dasharray="8.2 3.55"/>
<text x="925.55" y="970.55" font-size="24.00" textLength="70.54" lengthAdjust="spacingAndGlyphs" fill="#000">A-to-G</text>
<text x="924.40" y="996.05" font-size="24.00" textLength="66.74" lengthAdjust="spacingAndGlyphs" fill="#000">C-to-T</text>
<text x="924.40" y="1021.35" font-size="24.00" textLength="133.44" lengthAdjust="spacingAndGlyphs" fill="#000">CBE window</text>
<rect x="652.40" y="938.40" width="412.05" height="320.90" fill="none" stroke="#2b2b2b" stroke-width="1.20"/>
<line x1="646.40" y1="1259.30" x2="652.40" y2="1259.30" stroke="#2b2b2b" stroke-width="1.20"/>
<text x="627.27" y="1266.40" font-size="19.80" textLength="11.87" lengthAdjust="spacingAndGlyphs" fill="#000">0</text>
<line x1="646.40" y1="1195.12" x2="652.40" y2="1195.12" stroke="#2b2b2b" stroke-width="1.20"/>
<text x="610.70" y="1202.22" font-size="19.80" textLength="28.64" lengthAdjust="spacingAndGlyphs" fill="#000">0.2</text>
<line x1="646.40" y1="1130.94" x2="652.40" y2="1130.94" stroke="#2b2b2b" stroke-width="1.20"/>
<text x="610.71" y="1138.04" font-size="19.80" textLength="28.19" lengthAdjust="spacingAndGlyphs" fill="#000">0.4</text>
<line x1="646.40" y1="1066.76" x2="652.40" y2="1066.76" stroke="#2b2b2b" stroke-width="1.20"/>
<text x="610.70" y="1073.86" font-size="19.80" textLength="28.50" lengthAdjust="spacingAndGlyphs" fill="#000">0.6</text>
<line x1="646.40" y1="1002.58" x2="652.40" y2="1002.58" stroke="#2b2b2b" stroke-width="1.20"/>
<text x="610.70" y="1009.68" font-size="19.80" textLength="28.49" lengthAdjust="spacingAndGlyphs" fill="#000">0.8</text>
<line x1="646.40" y1="938.40" x2="652.40" y2="938.40" stroke="#2b2b2b" stroke-width="1.20"/>
<text x="613.18" y="945.50" font-size="19.80" textLength="25.84" lengthAdjust="spacingAndGlyphs" fill="#000">1.0</text>
<line x1="652.40" y1="1259.30" x2="652.40" y2="1264.70" stroke="#2b2b2b" stroke-width="1.20"/>
<text x="637.61" y="1286.90" font-size="19.80" textLength="28.80" lengthAdjust="spacingAndGlyphs" fill="#000">−10</text>
<line x1="721.08" y1="1259.30" x2="721.08" y2="1264.70" stroke="#2b2b2b" stroke-width="1.20"/>
<text x="710.71" y="1286.90" font-size="19.80" textLength="20.00" lengthAdjust="spacingAndGlyphs" fill="#000">−5</text>
<line x1="789.75" y1="1259.30" x2="789.75" y2="1264.70" stroke="#2b2b2b" stroke-width="1.20"/>
<text x="784.12" y="1286.90" font-size="19.80" textLength="11.87" lengthAdjust="spacingAndGlyphs" fill="#000">0</text>
<line x1="858.42" y1="1259.30" x2="858.42" y2="1264.70" stroke="#2b2b2b" stroke-width="1.20"/>
<text x="852.81" y="1286.90" font-size="19.80" textLength="11.26" lengthAdjust="spacingAndGlyphs" fill="#000">5</text>
<line x1="927.10" y1="1259.30" x2="927.10" y2="1264.70" stroke="#2b2b2b" stroke-width="1.20"/>
<text x="916.44" y="1286.90" font-size="19.80" textLength="20.64" lengthAdjust="spacingAndGlyphs" fill="#000">10</text>
<line x1="995.78" y1="1259.30" x2="995.78" y2="1264.70" stroke="#2b2b2b" stroke-width="1.20"/>
<text x="986.38" y="1286.90" font-size="19.80" textLength="18.24" lengthAdjust="spacingAndGlyphs" fill="#000">15</text>
<line x1="1064.45" y1="1259.30" x2="1064.45" y2="1264.70" stroke="#2b2b2b" stroke-width="1.20"/>
<text x="1052.86" y="1286.90" font-size="19.80" textLength="22.94" lengthAdjust="spacingAndGlyphs" fill="#000">20</text>
<text x="747.40" y="1319.80" font-size="24.00" textLength="222.18" lengthAdjust="spacingAndGlyphs" fill="#000">Protospacer position</text>
<text transform="translate(567.40 1186.90) rotate(-90)" font-size="24.00" textLength="178.34" lengthAdjust="spacingAndGlyphs" fill="#000">Average fraction</text>
<text transform="translate(595.10 1201.57) rotate(-90)" font-size="24.00" textLength="206.00" lengthAdjust="spacingAndGlyphs" fill="#000">of bases converted</text>
</g>
<g id="plot-b6">
<text x="1299.56" y="924.60" font-size="24.80" font-weight="bold" textLength="206.11" lengthAdjust="spacingAndGlyphs" fill="#000" stroke="#000" stroke-width="0.90" stroke-linejoin="miter" stroke-miterlimit="2">TadCBEd V106W</text>
<g clip-path="url(#clipb6)">
<rect x="1380.82" y="938.40" width="68.67" height="320.90" fill="#eeeefd" stroke="none" stroke-width="0.00"/>
<line x1="1195.40" y1="1229.68" x2="1607.45" y2="1229.68" stroke="#0000ff" stroke-width="2.20" stroke-dasharray="8.2 3.55"/>
<polyline fill="none" stroke="#ff0000" stroke-width="2.2" stroke-linejoin="round" points="1209.1,1259.1 1222.9,1259.1 1236.6,1259.1 1250.3,1259.1 1264.1,1259.1 1277.8,1259.1 1291.5,1259.1 1305.3,1259.1 1319.0,1259.1 1332.8,1259.1 1346.5,1259.1 1360.2,1259.1 1374.0,1258.5 1387.7,1258.2 1401.4,1256.9 1415.2,1255.6 1428.9,1256.5 1442.6,1257.6 1456.4,1258.5 1470.1,1259.1 1483.8,1259.1 1497.6,1259.1 1511.3,1259.1 1525.0,1259.1 1538.8,1259.1 1552.5,1259.1 1566.2,1259.1 1580.0,1259.1 1593.7,1259.1 1607.5,1259.1"/>
<g fill="#ff0000"><circle cx="1209.1" cy="1259.1" r="5.0"/><circle cx="1222.9" cy="1259.1" r="5.0"/><circle cx="1236.6" cy="1259.1" r="5.0"/><circle cx="1250.3" cy="1259.1" r="5.0"/><circle cx="1264.1" cy="1259.1" r="5.0"/><circle cx="1277.8" cy="1259.1" r="5.0"/><circle cx="1291.5" cy="1259.1" r="5.0"/><circle cx="1305.3" cy="1259.1" r="5.0"/><circle cx="1319.0" cy="1259.1" r="5.0"/><circle cx="1332.8" cy="1259.1" r="5.0"/><circle cx="1346.5" cy="1259.1" r="5.0"/><circle cx="1360.2" cy="1259.1" r="5.0"/><circle cx="1374.0" cy="1258.5" r="5.0"/><circle cx="1387.7" cy="1258.2" r="5.0"/><circle cx="1401.4" cy="1256.9" r="5.0"/><circle cx="1415.2" cy="1255.6" r="5.0"/><circle cx="1428.9" cy="1256.5" r="5.0"/><circle cx="1442.6" cy="1257.6" r="5.0"/><circle cx="1456.4" cy="1258.5" r="5.0"/><circle cx="1470.1" cy="1259.1" r="5.0"/><circle cx="1483.8" cy="1259.1" r="5.0"/><circle cx="1497.6" cy="1259.1" r="5.0"/><circle cx="1511.3" cy="1259.1" r="5.0"/><circle cx="1525.0" cy="1259.1" r="5.0"/><circle cx="1538.8" cy="1259.1" r="5.0"/><circle cx="1552.5" cy="1259.1" r="5.0"/><circle cx="1566.2" cy="1259.1" r="5.0"/><circle cx="1580.0" cy="1259.1" r="5.0"/><circle cx="1593.7" cy="1259.1" r="5.0"/><circle cx="1607.5" cy="1259.1" r="5.0"/></g>
<polyline fill="none" stroke="#0000ff" stroke-width="2.2" stroke-linejoin="round" points="1209.1,1258.7 1222.9,1258.7 1236.6,1258.7 1250.3,1258.7 1264.1,1258.7 1277.8,1258.7 1291.5,1258.7 1305.3,1258.7 1319.0,1258.7 1332.8,1258.7 1346.5,1257.4 1360.2,1253.7 1374.0,1243.4 1387.7,1213.5 1401.4,1174.3 1415.2,1160.3 1428.9,1172.5 1442.6,1203.8 1456.4,1243.6 1470.1,1255.3 1483.8,1256.9 1497.6,1257.9 1511.3,1258.7 1525.0,1258.7 1538.8,1258.7 1552.5,1258.7 1566.2,1258.7 1580.0,1258.7 1593.7,1258.7 1607.5,1258.7"/>
<g fill="#0000ff"><circle cx="1209.1" cy="1258.7" r="5.0"/><circle cx="1222.9" cy="1258.7" r="5.0"/><circle cx="1236.6" cy="1258.7" r="5.0"/><circle cx="1250.3" cy="1258.7" r="5.0"/><circle cx="1264.1" cy="1258.7" r="5.0"/><circle cx="1277.8" cy="1258.7" r="5.0"/><circle cx="1291.5" cy="1258.7" r="5.0"/><circle cx="1305.3" cy="1258.7" r="5.0"/><circle cx="1319.0" cy="1258.7" r="5.0"/><circle cx="1332.8" cy="1258.7" r="5.0"/><circle cx="1346.5" cy="1257.4" r="5.0"/><circle cx="1360.2" cy="1253.7" r="5.0"/><circle cx="1374.0" cy="1243.4" r="5.0"/><circle cx="1387.7" cy="1213.5" r="5.0"/><circle cx="1401.4" cy="1174.3" r="5.0"/><circle cx="1415.2" cy="1160.3" r="5.0"/><circle cx="1428.9" cy="1172.5" r="5.0"/><circle cx="1442.6" cy="1203.8" r="5.0"/><circle cx="1456.4" cy="1243.6" r="5.0"/><circle cx="1470.1" cy="1255.3" r="5.0"/><circle cx="1483.8" cy="1256.9" r="5.0"/><circle cx="1497.6" cy="1257.9" r="5.0"/><circle cx="1511.3" cy="1258.7" r="5.0"/><circle cx="1525.0" cy="1258.7" r="5.0"/><circle cx="1538.8" cy="1258.7" r="5.0"/><circle cx="1552.5" cy="1258.7" r="5.0"/><circle cx="1566.2" cy="1258.7" r="5.0"/><circle cx="1580.0" cy="1258.7" r="5.0"/><circle cx="1593.7" cy="1258.7" r="5.0"/><circle cx="1607.5" cy="1258.7" r="5.0"/></g>
<line x1="1339.62" y1="938.40" x2="1339.62" y2="1259.30" stroke="#000" stroke-width="2.40"/>
</g>
<rect x="1420.80" y="949.15" width="181.00" height="81.00" fill="#ffffff" stroke="none" stroke-width="0.00" rx="3.5" ry="3.5" fill-opacity="0.8"/>
<line x1="1425.90" y1="964.05" x2="1457.70" y2="964.05" stroke="#ff0000" stroke-width="2.20"/>
<circle cx="1441.80" cy="964.05" r="5.0" fill="#ff0000"/>
<line x1="1425.90" y1="989.55" x2="1457.70" y2="989.55" stroke="#0000ff" stroke-width="2.20"/>
<circle cx="1441.80" cy="989.55" r="5.0" fill="#0000ff"/>
<line x1="1426.90" y1="1014.85" x2="1457.70" y2="1014.85" stroke="#0000ff" stroke-width="2.20" stroke-dasharray="8.2 3.55"/>
<text x="1467.25" y="970.55" font-size="24.00" textLength="70.54" lengthAdjust="spacingAndGlyphs" fill="#000">A-to-G</text>
<text x="1466.10" y="996.05" font-size="24.00" textLength="66.74" lengthAdjust="spacingAndGlyphs" fill="#000">C-to-T</text>
<text x="1466.10" y="1021.35" font-size="24.00" textLength="133.44" lengthAdjust="spacingAndGlyphs" fill="#000">CBE window</text>
<rect x="1195.40" y="938.40" width="412.05" height="320.90" fill="none" stroke="#2b2b2b" stroke-width="1.20"/>
<line x1="1189.40" y1="1259.30" x2="1195.40" y2="1259.30" stroke="#2b2b2b" stroke-width="1.20"/>
<text x="1170.27" y="1266.40" font-size="19.80" textLength="11.87" lengthAdjust="spacingAndGlyphs" fill="#000">0</text>
<line x1="1189.40" y1="1195.12" x2="1195.40" y2="1195.12" stroke="#2b2b2b" stroke-width="1.20"/>
<text x="1153.70" y="1202.22" font-size="19.80" textLength="28.64" lengthAdjust="spacingAndGlyphs" fill="#000">0.2</text>
<line x1="1189.40" y1="1130.94" x2="1195.40" y2="1130.94" stroke="#2b2b2b" stroke-width="1.20"/>
<text x="1153.71" y="1138.04" font-size="19.80" textLength="28.19" lengthAdjust="spacingAndGlyphs" fill="#000">0.4</text>
<line x1="1189.40" y1="1066.76" x2="1195.40" y2="1066.76" stroke="#2b2b2b" stroke-width="1.20"/>
<text x="1153.70" y="1073.86" font-size="19.80" textLength="28.50" lengthAdjust="spacingAndGlyphs" fill="#000">0.6</text>
<line x1="1189.40" y1="1002.58" x2="1195.40" y2="1002.58" stroke="#2b2b2b" stroke-width="1.20"/>
<text x="1153.70" y="1009.68" font-size="19.80" textLength="28.49" lengthAdjust="spacingAndGlyphs" fill="#000">0.8</text>
<line x1="1189.40" y1="938.40" x2="1195.40" y2="938.40" stroke="#2b2b2b" stroke-width="1.20"/>
<text x="1156.18" y="945.50" font-size="19.80" textLength="25.84" lengthAdjust="spacingAndGlyphs" fill="#000">1.0</text>
<line x1="1195.40" y1="1259.30" x2="1195.40" y2="1264.70" stroke="#2b2b2b" stroke-width="1.20"/>
<text x="1180.61" y="1286.90" font-size="19.80" textLength="28.80" lengthAdjust="spacingAndGlyphs" fill="#000">−10</text>
<line x1="1264.08" y1="1259.30" x2="1264.08" y2="1264.70" stroke="#2b2b2b" stroke-width="1.20"/>
<text x="1253.71" y="1286.90" font-size="19.80" textLength="20.00" lengthAdjust="spacingAndGlyphs" fill="#000">−5</text>
<line x1="1332.75" y1="1259.30" x2="1332.75" y2="1264.70" stroke="#2b2b2b" stroke-width="1.20"/>
<text x="1327.12" y="1286.90" font-size="19.80" textLength="11.87" lengthAdjust="spacingAndGlyphs" fill="#000">0</text>
<line x1="1401.43" y1="1259.30" x2="1401.43" y2="1264.70" stroke="#2b2b2b" stroke-width="1.20"/>
<text x="1395.81" y="1286.90" font-size="19.80" textLength="11.26" lengthAdjust="spacingAndGlyphs" fill="#000">5</text>
<line x1="1470.10" y1="1259.30" x2="1470.10" y2="1264.70" stroke="#2b2b2b" stroke-width="1.20"/>
<text x="1459.44" y="1286.90" font-size="19.80" textLength="20.64" lengthAdjust="spacingAndGlyphs" fill="#000">10</text>
<line x1="1538.78" y1="1259.30" x2="1538.78" y2="1264.70" stroke="#2b2b2b" stroke-width="1.20"/>
<text x="1529.38" y="1286.90" font-size="19.80" textLength="18.24" lengthAdjust="spacingAndGlyphs" fill="#000">15</text>
<line x1="1607.45" y1="1259.30" x2="1607.45" y2="1264.70" stroke="#2b2b2b" stroke-width="1.20"/>
<text x="1595.86" y="1286.90" font-size="19.80" textLength="22.94" lengthAdjust="spacingAndGlyphs" fill="#000">20</text>
<text x="1290.40" y="1319.80" font-size="24.00" textLength="222.18" lengthAdjust="spacingAndGlyphs" fill="#000">Protospacer position</text>
<text transform="translate(1110.40 1186.90) rotate(-90)" font-size="24.00" textLength="178.34" lengthAdjust="spacingAndGlyphs" fill="#000">Average fraction</text>
<text transform="translate(1138.10 1201.57) rotate(-90)" font-size="24.00" textLength="206.00" lengthAdjust="spacingAndGlyphs" fill="#000">of bases converted</text>
</g>
<g id="plot-b7">
<text x="1908.77" y="924.60" font-size="24.80" font-weight="bold" textLength="79.36" lengthAdjust="spacingAndGlyphs" fill="#000" stroke="#000" stroke-width="0.90" stroke-linejoin="miter" stroke-miterlimit="2">TadDE</text>
<g clip-path="url(#clipb7)">
<rect x="1927.97" y="938.40" width="68.68" height="320.90" fill="#eeeefd" stroke="none" stroke-width="0.00"/>
<line x1="1742.55" y1="1233.05" x2="2154.60" y2="1233.05" stroke="#0000ff" stroke-width="2.20" stroke-dasharray="8.2 3.55"/>
<polyline fill="none" stroke="#ff0000" stroke-width="2.2" stroke-linejoin="round" points="1756.3,1258.7 1770.0,1258.7 1783.8,1258.7 1797.5,1258.7 1811.2,1258.7 1825.0,1258.7 1838.7,1258.7 1852.4,1258.7 1866.2,1258.7 1879.9,1257.4 1893.6,1258.3 1907.4,1252.9 1921.1,1239.9 1934.8,1207.4 1948.6,1186.0 1962.3,1180.7 1976.0,1192.8 1989.8,1210.8 2003.5,1239.4 2017.2,1252.6 2031.0,1257.4 2044.7,1258.7 2058.5,1258.7 2072.2,1258.7 2085.9,1258.7 2099.7,1258.7 2113.4,1258.7 2127.1,1258.7 2140.9,1258.7 2154.6,1258.7"/>
<g fill="#ff0000"><circle cx="1756.3" cy="1258.7" r="5.0"/><circle cx="1770.0" cy="1258.7" r="5.0"/><circle cx="1783.8" cy="1258.7" r="5.0"/><circle cx="1797.5" cy="1258.7" r="5.0"/><circle cx="1811.2" cy="1258.7" r="5.0"/><circle cx="1825.0" cy="1258.7" r="5.0"/><circle cx="1838.7" cy="1258.7" r="5.0"/><circle cx="1852.4" cy="1258.7" r="5.0"/><circle cx="1866.2" cy="1258.7" r="5.0"/><circle cx="1879.9" cy="1257.4" r="5.0"/><circle cx="1893.6" cy="1258.3" r="5.0"/><circle cx="1907.4" cy="1252.9" r="5.0"/><circle cx="1921.1" cy="1239.9" r="5.0"/><circle cx="1934.8" cy="1207.4" r="5.0"/><circle cx="1948.6" cy="1186.0" r="5.0"/><circle cx="1962.3" cy="1180.7" r="5.0"/><circle cx="1976.0" cy="1192.8" r="5.0"/><circle cx="1989.8" cy="1210.8" r="5.0"/><circle cx="2003.5" cy="1239.4" r="5.0"/><circle cx="2017.2" cy="1252.6" r="5.0"/><circle cx="2031.0" cy="1257.4" r="5.0"/><circle cx="2044.7" cy="1258.7" r="5.0"/><circle cx="2058.5" cy="1258.7" r="5.0"/><circle cx="2072.2" cy="1258.7" r="5.0"/><circle cx="2085.9" cy="1258.7" r="5.0"/><circle cx="2099.7" cy="1258.7" r="5.0"/><circle cx="2113.4" cy="1258.7" r="5.0"/><circle cx="2127.1" cy="1258.7" r="5.0"/><circle cx="2140.9" cy="1258.7" r="5.0"/><circle cx="2154.6" cy="1258.7" r="5.0"/></g>
<polyline fill="none" stroke="#0000ff" stroke-width="2.2" stroke-linejoin="round" points="1756.3,1258.7 1770.0,1258.7 1783.8,1258.7 1797.5,1258.7 1811.2,1258.7 1825.0,1258.7 1838.7,1258.7 1852.4,1258.7 1866.2,1258.7 1879.9,1258.7 1893.6,1257.9 1907.4,1254.4 1921.1,1245.5 1934.8,1213.5 1948.6,1181.4 1962.3,1170.6 1976.0,1190.5 1989.8,1217.0 2003.5,1246.8 2017.2,1254.0 2031.0,1255.5 2044.7,1257.2 2058.5,1257.6 2072.2,1258.7 2085.9,1258.7 2099.7,1258.7 2113.4,1258.7 2127.1,1258.7 2140.9,1258.7 2154.6,1258.7"/>
<g fill="#0000ff"><circle cx="1756.3" cy="1258.7" r="5.0"/><circle cx="1770.0" cy="1258.7" r="5.0"/><circle cx="1783.8" cy="1258.7" r="5.0"/><circle cx="1797.5" cy="1258.7" r="5.0"/><circle cx="1811.2" cy="1258.7" r="5.0"/><circle cx="1825.0" cy="1258.7" r="5.0"/><circle cx="1838.7" cy="1258.7" r="5.0"/><circle cx="1852.4" cy="1258.7" r="5.0"/><circle cx="1866.2" cy="1258.7" r="5.0"/><circle cx="1879.9" cy="1258.7" r="5.0"/><circle cx="1893.6" cy="1257.9" r="5.0"/><circle cx="1907.4" cy="1254.4" r="5.0"/><circle cx="1921.1" cy="1245.5" r="5.0"/><circle cx="1934.8" cy="1213.5" r="5.0"/><circle cx="1948.6" cy="1181.4" r="5.0"/><circle cx="1962.3" cy="1170.6" r="5.0"/><circle cx="1976.0" cy="1190.5" r="5.0"/><circle cx="1989.8" cy="1217.0" r="5.0"/><circle cx="2003.5" cy="1246.8" r="5.0"/><circle cx="2017.2" cy="1254.0" r="5.0"/><circle cx="2031.0" cy="1255.5" r="5.0"/><circle cx="2044.7" cy="1257.2" r="5.0"/><circle cx="2058.5" cy="1257.6" r="5.0"/><circle cx="2072.2" cy="1258.7" r="5.0"/><circle cx="2085.9" cy="1258.7" r="5.0"/><circle cx="2099.7" cy="1258.7" r="5.0"/><circle cx="2113.4" cy="1258.7" r="5.0"/><circle cx="2127.1" cy="1258.7" r="5.0"/><circle cx="2140.9" cy="1258.7" r="5.0"/><circle cx="2154.6" cy="1258.7" r="5.0"/></g>
<line x1="1886.77" y1="938.40" x2="1886.77" y2="1259.30" stroke="#000" stroke-width="2.40"/>
</g>
<rect x="1968.90" y="949.15" width="181.00" height="81.00" fill="#ffffff" stroke="none" stroke-width="0.00" rx="3.5" ry="3.5" fill-opacity="0.8"/>
<line x1="1974.00" y1="964.05" x2="2005.80" y2="964.05" stroke="#ff0000" stroke-width="2.20"/>
<circle cx="1989.90" cy="964.05" r="5.0" fill="#ff0000"/>
<line x1="1974.00" y1="989.55" x2="2005.80" y2="989.55" stroke="#0000ff" stroke-width="2.20"/>
<circle cx="1989.90" cy="989.55" r="5.0" fill="#0000ff"/>
<line x1="1975.00" y1="1014.85" x2="2005.80" y2="1014.85" stroke="#0000ff" stroke-width="2.20" stroke-dasharray="8.2 3.55"/>
<text x="2015.35" y="970.55" font-size="24.00" textLength="70.54" lengthAdjust="spacingAndGlyphs" fill="#000">A-to-G</text>
<text x="2014.20" y="996.05" font-size="24.00" textLength="66.74" lengthAdjust="spacingAndGlyphs" fill="#000">C-to-T</text>
<text x="2014.20" y="1021.35" font-size="24.00" textLength="133.44" lengthAdjust="spacingAndGlyphs" fill="#000">CBE window</text>
<rect x="1742.55" y="938.40" width="412.05" height="320.90" fill="none" stroke="#2b2b2b" stroke-width="1.20"/>
<line x1="1736.55" y1="1259.30" x2="1742.55" y2="1259.30" stroke="#2b2b2b" stroke-width="1.20"/>
<text x="1717.42" y="1266.40" font-size="19.80" textLength="11.87" lengthAdjust="spacingAndGlyphs" fill="#000">0</text>
<line x1="1736.55" y1="1195.12" x2="1742.55" y2="1195.12" stroke="#2b2b2b" stroke-width="1.20"/>
<text x="1700.85" y="1202.22" font-size="19.80" textLength="28.64" lengthAdjust="spacingAndGlyphs" fill="#000">0.2</text>
<line x1="1736.55" y1="1130.94" x2="1742.55" y2="1130.94" stroke="#2b2b2b" stroke-width="1.20"/>
<text x="1700.86" y="1138.04" font-size="19.80" textLength="28.19" lengthAdjust="spacingAndGlyphs" fill="#000">0.4</text>
<line x1="1736.55" y1="1066.76" x2="1742.55" y2="1066.76" stroke="#2b2b2b" stroke-width="1.20"/>
<text x="1700.85" y="1073.86" font-size="19.80" textLength="28.50" lengthAdjust="spacingAndGlyphs" fill="#000">0.6</text>
<line x1="1736.55" y1="1002.58" x2="1742.55" y2="1002.58" stroke="#2b2b2b" stroke-width="1.20"/>
<text x="1700.85" y="1009.68" font-size="19.80" textLength="28.49" lengthAdjust="spacingAndGlyphs" fill="#000">0.8</text>
<line x1="1736.55" y1="938.40" x2="1742.55" y2="938.40" stroke="#2b2b2b" stroke-width="1.20"/>
<text x="1703.33" y="945.50" font-size="19.80" textLength="25.84" lengthAdjust="spacingAndGlyphs" fill="#000">1.0</text>
<line x1="1742.55" y1="1259.30" x2="1742.55" y2="1264.70" stroke="#2b2b2b" stroke-width="1.20"/>
<text x="1727.76" y="1286.90" font-size="19.80" textLength="28.80" lengthAdjust="spacingAndGlyphs" fill="#000">−10</text>
<line x1="1811.22" y1="1259.30" x2="1811.22" y2="1264.70" stroke="#2b2b2b" stroke-width="1.20"/>
<text x="1800.86" y="1286.90" font-size="19.80" textLength="20.00" lengthAdjust="spacingAndGlyphs" fill="#000">−5</text>
<line x1="1879.90" y1="1259.30" x2="1879.90" y2="1264.70" stroke="#2b2b2b" stroke-width="1.20"/>
<text x="1874.27" y="1286.90" font-size="19.80" textLength="11.87" lengthAdjust="spacingAndGlyphs" fill="#000">0</text>
<line x1="1948.58" y1="1259.30" x2="1948.58" y2="1264.70" stroke="#2b2b2b" stroke-width="1.20"/>
<text x="1942.96" y="1286.90" font-size="19.80" textLength="11.26" lengthAdjust="spacingAndGlyphs" fill="#000">5</text>
<line x1="2017.25" y1="1259.30" x2="2017.25" y2="1264.70" stroke="#2b2b2b" stroke-width="1.20"/>
<text x="2006.59" y="1286.90" font-size="19.80" textLength="20.64" lengthAdjust="spacingAndGlyphs" fill="#000">10</text>
<line x1="2085.93" y1="1259.30" x2="2085.93" y2="1264.70" stroke="#2b2b2b" stroke-width="1.20"/>
<text x="2076.53" y="1286.90" font-size="19.80" textLength="18.24" lengthAdjust="spacingAndGlyphs" fill="#000">15</text>
<line x1="2154.60" y1="1259.30" x2="2154.60" y2="1264.70" stroke="#2b2b2b" stroke-width="1.20"/>
<text x="2143.01" y="1286.90" font-size="19.80" textLength="22.94" lengthAdjust="spacingAndGlyphs" fill="#000">20</text>
<text x="1837.55" y="1319.80" font-size="24.00" textLength="222.18" lengthAdjust="spacingAndGlyphs" fill="#000">Protospacer position</text>
<text transform="translate(1657.55 1186.90) rotate(-90)" font-size="24.00" textLength="178.34" lengthAdjust="spacingAndGlyphs" fill="#000">Average fraction</text>
<text transform="translate(1685.25 1201.57) rotate(-90)" font-size="24.00" textLength="206.00" lengthAdjust="spacingAndGlyphs" fill="#000">of bases converted</text>
</g>
</g>
<g id="panel-c">
<text x="-0.87" y="1397.30" font-size="35.50" font-weight="bold" textLength="22.35" lengthAdjust="spacingAndGlyphs" fill="#000" stroke="#000" stroke-width="1.80" stroke-linejoin="miter" stroke-miterlimit="2">c</text>
<g id="plot-c0">
<text x="267.62" y="1406.20" font-size="24.80" font-weight="bold" textLength="113.55" lengthAdjust="spacingAndGlyphs" fill="#000" stroke="#000" stroke-width="0.90" stroke-linejoin="miter" stroke-miterlimit="2">TadCBEd</text>
<text x="89.52" y="1435.80" font-size="24.80" font-weight="bold" textLength="468.37" lengthAdjust="spacingAndGlyphs" fill="#000" stroke="#000" stroke-width="0.90" stroke-linejoin="miter" stroke-miterlimit="2">(Pos. 4–8 [<tspan font-style="italic">n</tspan> = 11,876]; Test <tspan font-style="italic">R</tspan> = 0.3569)</text>
<g clip-path="url(#clipc0)">
<text transform="matrix(0.90699 0 0 2.95635 296.519 1715.458)" font-size="100" font-weight="bold" fill="#d0d0d0">C</text>
<text transform="matrix(0.90699 0 0 0.24688 109.769 1613.227)" font-size="100" font-weight="bold" fill="#6e6eff">C</text>
<text transform="matrix(0.87877 0 0 0.50314 109.885 1595.055)" font-size="100" font-weight="bold" fill="#ffd966">G</text>
<text transform="matrix(0.88389 0 0 0.27336 111.288 1632.718)" font-size="100" font-weight="bold" fill="#ff6b6b">A</text>
<text transform="matrix(1.00702 0 0 0.52743 112.358 1669.004)" font-size="100" font-weight="bold" fill="#80d680">T</text>
<text transform="matrix(0.87877 0 0 0.89378 172.135 1612.595)" font-size="100" font-weight="bold" fill="#ffd966">G</text>
<text transform="matrix(0.88389 0 0 0.23156 173.538 1629.841)" font-size="100" font-weight="bold" fill="#ff6b6b">A</text>
<text transform="matrix(0.90699 0 0 0.29689 172.019 1650.571)" font-size="100" font-weight="bold" fill="#6e6eff">C</text>
<text transform="matrix(1.00702 0 0 0.38271 174.608 1677.191)" font-size="100" font-weight="bold" fill="#80d680">T</text>
<text transform="matrix(1.00702 0 0 0.94552 236.858 1613.468)" font-size="100" font-weight="bold" fill="#80d680">T</text>
<text transform="matrix(0.90699 0 0 1.33755 234.269 1547.111)" font-size="100" font-weight="bold" fill="#6e6eff">C</text>
<text transform="matrix(0.87877 0 0 0.22813 234.385 1630.061)" font-size="100" font-weight="bold" fill="#ffd966">G</text>
<text transform="matrix(0.88389 0 0 2.12259 235.788 1776.316)" font-size="100" font-weight="bold" fill="#ff6b6b">A</text>
<text transform="matrix(0.88389 0 0 0.06110 360.288 1613.468)" font-size="100" font-weight="bold" fill="#ff6b6b">A</text>
<text transform="matrix(0.90699 0 0 0.13125 358.769 1609.578)" font-size="100" font-weight="bold" fill="#6e6eff">C</text>
<text transform="matrix(0.87877 0 0 0.32501 358.885 1599.875)" font-size="100" font-weight="bold" fill="#ffd966">G</text>
<text transform="matrix(1.00702 0 0 0.52743 361.358 1649.755)" font-size="100" font-weight="bold" fill="#80d680">T</text>
<text transform="matrix(0.87877 0 0 0.77190 421.135 1612.714)" font-size="100" font-weight="bold" fill="#ffd966">G</text>
<text transform="matrix(0.90699 0 0 0.15938 421.019 1625.260)" font-size="100" font-weight="bold" fill="#6e6eff">C</text>
<text transform="matrix(1.00702 0 0 0.26372 423.608 1643.559)" font-size="100" font-weight="bold" fill="#80d680">T</text>
<text transform="matrix(0.88389 0 0 0.35377 422.538 1667.898)" font-size="100" font-weight="bold" fill="#ff6b6b">A</text>
<text transform="matrix(0.90699 0 0 0.12188 483.269 1613.349)" font-size="100" font-weight="bold" fill="#6e6eff">C</text>
<text transform="matrix(0.87877 0 0 0.43127 483.385 1604.418)" font-size="100" font-weight="bold" fill="#ffd966">G</text>
<text transform="matrix(0.88389 0 0 0.11899 484.788 1622.097)" font-size="100" font-weight="bold" fill="#ff6b6b">A</text>
<text transform="matrix(1.00702 0 0 0.44703 485.858 1652.852)" font-size="100" font-weight="bold" fill="#80d680">T</text>
<line x1="113.50" y1="1613.47" x2="546.50" y2="1613.47" stroke="#555" stroke-width="0.70"/>
</g>
<rect x="113.50" y="1454.45" width="433.00" height="321.00" fill="none" stroke="#1c1c1c" stroke-width="1.15"/>
<line x1="107.50" y1="1487.57" x2="113.50" y2="1487.57" stroke="#2b2b2b" stroke-width="1.20"/>
<text x="71.07" y="1494.67" font-size="19.80" textLength="29.57" lengthAdjust="spacingAndGlyphs" fill="#000">0.6</text>
<line x1="107.50" y1="1529.61" x2="113.50" y2="1529.61" stroke="#2b2b2b" stroke-width="1.20"/>
<text x="71.08" y="1536.71" font-size="19.80" textLength="29.24" lengthAdjust="spacingAndGlyphs" fill="#000">0.4</text>
<line x1="107.50" y1="1571.65" x2="113.50" y2="1571.65" stroke="#2b2b2b" stroke-width="1.20"/>
<text x="71.07" y="1578.75" font-size="19.80" textLength="29.71" lengthAdjust="spacingAndGlyphs" fill="#000">0.2</text>
<line x1="107.50" y1="1613.47" x2="113.50" y2="1613.47" stroke="#2b2b2b" stroke-width="1.20"/>
<text x="88.02" y="1620.57" font-size="19.80" textLength="12.57" lengthAdjust="spacingAndGlyphs" fill="#000">0</text>
<line x1="107.50" y1="1655.29" x2="113.50" y2="1655.29" stroke="#2b2b2b" stroke-width="1.20"/>
<text x="61.42" y="1662.89" font-size="19.80" textLength="39.28" lengthAdjust="spacingAndGlyphs" fill="#000">−0.2</text>
<line x1="107.50" y1="1697.33" x2="113.50" y2="1697.33" stroke="#2b2b2b" stroke-width="1.20"/>
<text x="61.43" y="1704.93" font-size="19.80" textLength="38.85" lengthAdjust="spacingAndGlyphs" fill="#000">−0.4</text>
<line x1="107.50" y1="1739.14" x2="113.50" y2="1739.14" stroke="#2b2b2b" stroke-width="1.20"/>
<text x="61.42" y="1746.74" font-size="19.80" textLength="39.15" lengthAdjust="spacingAndGlyphs" fill="#000">−0.6</text>
<line x1="143.14" y1="1775.45" x2="143.14" y2="1781.05" stroke="#2b2b2b" stroke-width="1.20"/>
<text x="132.74" y="1803.20" font-size="19.80" textLength="20.69" lengthAdjust="spacingAndGlyphs" fill="#000">−3</text>
<line x1="205.39" y1="1775.45" x2="205.39" y2="1781.05" stroke="#2b2b2b" stroke-width="1.20"/>
<text x="194.99" y="1803.20" font-size="19.80" textLength="20.82" lengthAdjust="spacingAndGlyphs" fill="#000">−2</text>
<line x1="267.64" y1="1775.45" x2="267.64" y2="1781.05" stroke="#2b2b2b" stroke-width="1.20"/>
<text x="258.61" y="1803.20" font-size="19.80" textLength="18.05" lengthAdjust="spacingAndGlyphs" fill="#000">−1</text>
<line x1="392.14" y1="1775.45" x2="392.14" y2="1781.05" stroke="#2b2b2b" stroke-width="1.20"/>
<text x="387.94" y="1803.20" font-size="19.80" textLength="8.00" lengthAdjust="spacingAndGlyphs" fill="#000">1</text>
<line x1="454.39" y1="1775.45" x2="454.39" y2="1781.05" stroke="#2b2b2b" stroke-width="1.20"/>
<text x="448.04" y="1803.20" font-size="19.80" textLength="12.70" lengthAdjust="spacingAndGlyphs" fill="#000">2</text>
<line x1="516.64" y1="1775.45" x2="516.64" y2="1781.05" stroke="#2b2b2b" stroke-width="1.20"/>
<text x="510.60" y="1803.20" font-size="19.80" textLength="12.20" lengthAdjust="spacingAndGlyphs" fill="#000">3</text>
<text x="218.15" y="1837.50" font-size="24.00" textLength="222.82" lengthAdjust="spacingAndGlyphs" fill="#000">Position relative to C</text>
<text transform="translate(42.50 1761.51) rotate(-90)" font-size="24.00" textLength="293.69" lengthAdjust="spacingAndGlyphs" fill="#000">Logistic regression weights</text>
</g>
<g id="plot-c1">
<text x="807.07" y="1406.20" font-size="24.80" font-weight="bold" textLength="112.63" lengthAdjust="spacingAndGlyphs" fill="#000" stroke="#000" stroke-width="0.90" stroke-linejoin="miter" stroke-miterlimit="2">TadCBEd</text>
<text x="628.42" y="1435.80" font-size="24.80" font-weight="bold" textLength="468.57" lengthAdjust="spacingAndGlyphs" fill="#000" stroke="#000" stroke-width="0.90" stroke-linejoin="miter" stroke-miterlimit="2">(Pos. 4–8 [<tspan font-style="italic">n</tspan> = 11,700]; Test <tspan font-style="italic">R</tspan> = 0.6416)</text>
<g clip-path="url(#clipc1)">
<text transform="matrix(0.88389 0 0 1.22210 833.038 1656.835)" font-size="100" font-weight="bold" fill="#bfbfbf">A</text>
<text transform="matrix(0.90699 0 0 0.04375 644.769 1614.753)" font-size="100" font-weight="bold" fill="#3333ff">C</text>
<text transform="matrix(0.88389 0 0 0.08362 646.288 1612.140)" font-size="100" font-weight="bold" fill="#ff3333">A</text>
<text transform="matrix(0.87877 0 0 0.20626 644.885 1606.186)" font-size="100" font-weight="bold" fill="#ffc733">G</text>
<text transform="matrix(1.00702 0 0 0.34412 647.358 1638.470)" font-size="100" font-weight="bold" fill="#4fc44f">T</text>
<text transform="matrix(0.87877 0 0 0.53127 707.135 1614.277)" font-size="100" font-weight="bold" fill="#ffc733">G</text>
<text transform="matrix(0.88389 0 0 0.02251 708.538 1616.344)" font-size="100" font-weight="bold" fill="#ff3333">A</text>
<text transform="matrix(1.00702 0 0 0.22834 709.608 1632.054)" font-size="100" font-weight="bold" fill="#4fc44f">T</text>
<text transform="matrix(0.90699 0 0 0.30314 707.019 1653.220)" font-size="100" font-weight="bold" fill="#3333ff">C</text>
<text transform="matrix(0.90699 0 0 0.91253 769.269 1613.904)" font-size="100" font-weight="bold" fill="#3333ff">C</text>
<text transform="matrix(1.00702 0 0 1.40220 771.858 1550.188)" font-size="100" font-weight="bold" fill="#4fc44f">T</text>
<text transform="matrix(0.87877 0 0 0.68752 769.385 1663.465)" font-size="100" font-weight="bold" fill="#ffc733">G</text>
<text transform="matrix(0.88389 0 0 1.63054 770.788 1776.316)" font-size="100" font-weight="bold" fill="#ff3333">A</text>
<text transform="matrix(1.00702 0 0 0.13507 896.358 1614.796)" font-size="100" font-weight="bold" fill="#4fc44f">T</text>
<text transform="matrix(0.90699 0 0 0.25938 893.769 1605.249)" font-size="100" font-weight="bold" fill="#3333ff">C</text>
<text transform="matrix(0.87877 0 0 0.01250 893.885 1615.226)" font-size="100" font-weight="bold" fill="#ffc733">G</text>
<text transform="matrix(0.88389 0 0 0.38593 895.288 1642.011)" font-size="100" font-weight="bold" fill="#ff3333">A</text>
<text transform="matrix(0.87877 0 0 0.41876 956.135 1614.165)" font-size="100" font-weight="bold" fill="#ffc733">G</text>
<text transform="matrix(1.00702 0 0 0.00965 958.608 1615.017)" font-size="100" font-weight="bold" fill="#4fc44f">T</text>
<text transform="matrix(0.90699 0 0 0.17813 956.019 1627.455)" font-size="100" font-weight="bold" fill="#3333ff">C</text>
<text transform="matrix(0.88389 0 0 0.25407 957.538 1645.108)" font-size="100" font-weight="bold" fill="#ff3333">A</text>
<text transform="matrix(0.87877 0 0 0.33439 1018.385 1614.469)" font-size="100" font-weight="bold" fill="#ffc733">G</text>
<text transform="matrix(0.88389 0 0 0.02251 1019.788 1616.344)" font-size="100" font-weight="bold" fill="#ff3333">A</text>
<text transform="matrix(0.90699 0 0 0.13438 1018.269 1625.727)" font-size="100" font-weight="bold" fill="#3333ff">C</text>
<text transform="matrix(1.00702 0 0 0.18653 1020.858 1638.692)" font-size="100" font-weight="bold" fill="#4fc44f">T</text>
<line x1="648.50" y1="1614.80" x2="1080.50" y2="1614.80" stroke="#555" stroke-width="0.70"/>
</g>
<rect x="648.50" y="1454.45" width="432.00" height="321.00" fill="none" stroke="#1c1c1c" stroke-width="1.15"/>
<line x1="642.50" y1="1488.68" x2="648.50" y2="1488.68" stroke="#2b2b2b" stroke-width="1.20"/>
<text x="609.90" y="1495.78" font-size="19.80" textLength="25.57" lengthAdjust="spacingAndGlyphs" fill="#000">1.5</text>
<line x1="642.50" y1="1530.72" x2="648.50" y2="1530.72" stroke="#2b2b2b" stroke-width="1.20"/>
<text x="609.90" y="1537.82" font-size="19.80" textLength="25.52" lengthAdjust="spacingAndGlyphs" fill="#000">1.0</text>
<line x1="642.50" y1="1572.76" x2="648.50" y2="1572.76" stroke="#2b2b2b" stroke-width="1.20"/>
<text x="606.07" y="1579.86" font-size="19.80" textLength="29.52" lengthAdjust="spacingAndGlyphs" fill="#000">0.5</text>
<line x1="642.50" y1="1614.80" x2="648.50" y2="1614.80" stroke="#2b2b2b" stroke-width="1.20"/>
<text x="623.02" y="1621.90" font-size="19.80" textLength="12.57" lengthAdjust="spacingAndGlyphs" fill="#000">0</text>
<line x1="642.50" y1="1656.39" x2="648.50" y2="1656.39" stroke="#2b2b2b" stroke-width="1.20"/>
<text x="596.42" y="1663.99" font-size="19.80" textLength="39.11" lengthAdjust="spacingAndGlyphs" fill="#000">−0.5</text>
<line x1="642.50" y1="1698.21" x2="648.50" y2="1698.21" stroke="#2b2b2b" stroke-width="1.20"/>
<text x="601.04" y="1705.81" font-size="19.80" textLength="34.34" lengthAdjust="spacingAndGlyphs" fill="#000">−1.0</text>
<line x1="642.50" y1="1740.25" x2="648.50" y2="1740.25" stroke="#2b2b2b" stroke-width="1.20"/>
<text x="601.04" y="1747.85" font-size="19.80" textLength="34.39" lengthAdjust="spacingAndGlyphs" fill="#000">−1.5</text>
<line x1="678.14" y1="1775.45" x2="678.14" y2="1781.05" stroke="#2b2b2b" stroke-width="1.20"/>
<text x="667.74" y="1803.20" font-size="19.80" textLength="20.69" lengthAdjust="spacingAndGlyphs" fill="#000">−3</text>
<line x1="740.39" y1="1775.45" x2="740.39" y2="1781.05" stroke="#2b2b2b" stroke-width="1.20"/>
<text x="729.99" y="1803.20" font-size="19.80" textLength="20.82" lengthAdjust="spacingAndGlyphs" fill="#000">−2</text>
<line x1="802.64" y1="1775.45" x2="802.64" y2="1781.05" stroke="#2b2b2b" stroke-width="1.20"/>
<text x="793.61" y="1803.20" font-size="19.80" textLength="18.05" lengthAdjust="spacingAndGlyphs" fill="#000">−1</text>
<line x1="927.14" y1="1775.45" x2="927.14" y2="1781.05" stroke="#2b2b2b" stroke-width="1.20"/>
<text x="922.94" y="1803.20" font-size="19.80" textLength="8.00" lengthAdjust="spacingAndGlyphs" fill="#000">1</text>
<line x1="989.39" y1="1775.45" x2="989.39" y2="1781.05" stroke="#2b2b2b" stroke-width="1.20"/>
<text x="983.04" y="1803.20" font-size="19.80" textLength="12.70" lengthAdjust="spacingAndGlyphs" fill="#000">2</text>
<line x1="1051.64" y1="1775.45" x2="1051.64" y2="1781.05" stroke="#2b2b2b" stroke-width="1.20"/>
<text x="1045.60" y="1797.60" font-size="19.80" textLength="12.20" lengthAdjust="spacingAndGlyphs" fill="#000">3</text>
<text x="753.70" y="1837.50" font-size="24.00" textLength="220.83" lengthAdjust="spacingAndGlyphs" fill="#000">Position relative to A</text>
</g>
<g id="plot-c2">
<text x="1293.61" y="1406.20" font-size="24.80" font-weight="bold" textLength="205.11" lengthAdjust="spacingAndGlyphs" fill="#000" stroke="#000" stroke-width="0.90" stroke-linejoin="miter" stroke-miterlimit="2">TadCBEd V106W</text>
<text x="1159.96" y="1435.80" font-size="24.80" font-weight="bold" textLength="472.69" lengthAdjust="spacingAndGlyphs" fill="#000" stroke="#000" stroke-width="0.90" stroke-linejoin="miter" stroke-miterlimit="2">(Pos. 4–8 [<tspan font-style="italic">n</tspan> = 11,928]; Test <tspan font-style="italic">R</tspan> = 0.3048)</text>
<g clip-path="url(#clipc2)">
<text transform="matrix(0.90699 0 0 4.03139 1360.519 1753.572)" font-size="100" font-weight="bold" fill="#d8d8d8">C</text>
<text transform="matrix(0.90699 0 0 0.53752 1173.769 1614.271)" font-size="100" font-weight="bold" fill="#8484ff">C</text>
<text transform="matrix(0.87877 0 0 0.79378 1173.885 1575.521)" font-size="100" font-weight="bold" fill="#ffe085">G</text>
<text transform="matrix(0.88389 0 0 0.54030 1175.288 1651.967)" font-size="100" font-weight="bold" fill="#ff8585">A</text>
<text transform="matrix(1.00702 0 0 0.80080 1176.358 1707.061)" font-size="100" font-weight="bold" fill="#94dc94">T</text>
<text transform="matrix(0.87877 0 0 1.25942 1236.135 1613.566)" font-size="100" font-weight="bold" fill="#ffe085">G</text>
<text transform="matrix(0.90699 0 0 0.05625 1236.019 1618.723)" font-size="100" font-weight="bold" fill="#8484ff">C</text>
<text transform="matrix(1.00702 0 0 0.56924 1238.608 1657.941)" font-size="100" font-weight="bold" fill="#94dc94">T</text>
<text transform="matrix(0.88389 0 0 0.68180 1237.538 1704.848)" font-size="100" font-weight="bold" fill="#ff8585">A</text>
<text transform="matrix(1.00702 0 0 0.56281 1300.858 1614.796)" font-size="100" font-weight="bold" fill="#94dc94">T</text>
<text transform="matrix(0.90699 0 0 1.72819 1298.269 1574.387)" font-size="100" font-weight="bold" fill="#8484ff">C</text>
<text transform="matrix(0.87877 0 0 0.33439 1298.385 1638.808)" font-size="100" font-weight="bold" fill="#ffe085">G</text>
<text transform="matrix(0.88389 0 0 1.99395 1299.788 1776.316)" font-size="100" font-weight="bold" fill="#ff8585">A</text>
<text transform="matrix(0.88389 0 0 0.14472 1424.288 1614.796)" font-size="100" font-weight="bold" fill="#ff8585">A</text>
<text transform="matrix(0.87877 0 0 0.25938 1422.885 1604.586)" font-size="100" font-weight="bold" fill="#ffe085">G</text>
<text transform="matrix(0.90699 0 0 0.50627 1422.769 1585.980)" font-size="100" font-weight="bold" fill="#8484ff">C</text>
<text transform="matrix(1.00702 0 0 0.93265 1425.358 1678.961)" font-size="100" font-weight="bold" fill="#94dc94">T</text>
<text transform="matrix(0.87877 0 0 1.52193 1485.135 1613.309)" font-size="100" font-weight="bold" fill="#ffe085">G</text>
<text transform="matrix(1.00702 0 0 0.23156 1487.608 1630.726)" font-size="100" font-weight="bold" fill="#94dc94">T</text>
<text transform="matrix(0.90699 0 0 0.52502 1485.019 1667.385)" font-size="100" font-weight="bold" fill="#8484ff">C</text>
<text transform="matrix(0.88389 0 0 0.78793 1486.538 1722.107)" font-size="100" font-weight="bold" fill="#ff8585">A</text>
<text transform="matrix(0.90699 0 0 0.16563 1547.269 1614.634)" font-size="100" font-weight="bold" fill="#8484ff">C</text>
<text transform="matrix(0.87877 0 0 0.68752 1547.385 1602.397)" font-size="100" font-weight="bold" fill="#ffe085">G</text>
<text transform="matrix(0.88389 0 0 0.25085 1548.788 1632.054)" font-size="100" font-weight="bold" fill="#ff8585">A</text>
<text transform="matrix(1.00702 0 0 0.61748 1549.858 1674.536)" font-size="100" font-weight="bold" fill="#94dc94">T</text>
<line x1="1177.50" y1="1614.80" x2="1609.50" y2="1614.80" stroke="#555" stroke-width="0.70"/>
</g>
<rect x="1177.50" y="1454.45" width="432.00" height="321.00" fill="none" stroke="#1c1c1c" stroke-width="1.15"/>
<line x1="1171.50" y1="1500.18" x2="1177.50" y2="1500.18" stroke="#2b2b2b" stroke-width="1.20"/>
<text x="1135.08" y="1505.38" font-size="19.80" textLength="29.24" lengthAdjust="spacingAndGlyphs" fill="#000">0.4</text>
<line x1="1171.50" y1="1557.49" x2="1177.50" y2="1557.49" stroke="#2b2b2b" stroke-width="1.20"/>
<text x="1135.07" y="1563.99" font-size="19.80" textLength="29.71" lengthAdjust="spacingAndGlyphs" fill="#000">0.2</text>
<line x1="1171.50" y1="1614.80" x2="1177.50" y2="1614.80" stroke="#2b2b2b" stroke-width="1.20"/>
<text x="1152.02" y="1622.70" font-size="19.80" textLength="12.57" lengthAdjust="spacingAndGlyphs" fill="#000">0</text>
<line x1="1171.50" y1="1671.88" x2="1177.50" y2="1671.88" stroke="#2b2b2b" stroke-width="1.20"/>
<text x="1125.42" y="1680.98" font-size="19.80" textLength="39.28" lengthAdjust="spacingAndGlyphs" fill="#000">−0.2</text>
<line x1="1171.50" y1="1728.74" x2="1177.50" y2="1728.74" stroke="#2b2b2b" stroke-width="1.20"/>
<text x="1125.43" y="1739.44" font-size="19.80" textLength="38.85" lengthAdjust="spacingAndGlyphs" fill="#000">−0.4</text>
<line x1="1207.14" y1="1775.45" x2="1207.14" y2="1781.05" stroke="#2b2b2b" stroke-width="1.20"/>
<text x="1196.74" y="1803.20" font-size="19.80" textLength="20.69" lengthAdjust="spacingAndGlyphs" fill="#000">−3</text>
<line x1="1269.39" y1="1775.45" x2="1269.39" y2="1781.05" stroke="#2b2b2b" stroke-width="1.20"/>
<text x="1258.99" y="1803.20" font-size="19.80" textLength="20.82" lengthAdjust="spacingAndGlyphs" fill="#000">−2</text>
<line x1="1331.64" y1="1775.45" x2="1331.64" y2="1781.05" stroke="#2b2b2b" stroke-width="1.20"/>
<text x="1322.61" y="1803.20" font-size="19.80" textLength="18.05" lengthAdjust="spacingAndGlyphs" fill="#000">−1</text>
<line x1="1456.14" y1="1775.45" x2="1456.14" y2="1781.05" stroke="#2b2b2b" stroke-width="1.20"/>
<text x="1451.94" y="1803.20" font-size="19.80" textLength="8.00" lengthAdjust="spacingAndGlyphs" fill="#000">1</text>
<line x1="1518.39" y1="1775.45" x2="1518.39" y2="1781.05" stroke="#2b2b2b" stroke-width="1.20"/>
<text x="1512.04" y="1803.20" font-size="19.80" textLength="12.70" lengthAdjust="spacingAndGlyphs" fill="#000">2</text>
<line x1="1580.64" y1="1775.45" x2="1580.64" y2="1781.05" stroke="#2b2b2b" stroke-width="1.20"/>
<text x="1574.60" y="1803.20" font-size="19.80" textLength="12.20" lengthAdjust="spacingAndGlyphs" fill="#000">3</text>
<text x="1282.15" y="1837.50" font-size="24.00" textLength="222.82" lengthAdjust="spacingAndGlyphs" fill="#000">Position relative to C</text>
</g>
<g id="plot-c3">
<text x="1827.86" y="1406.20" font-size="24.80" font-weight="bold" textLength="205.01" lengthAdjust="spacingAndGlyphs" fill="#000" stroke="#000" stroke-width="0.90" stroke-linejoin="miter" stroke-miterlimit="2">TadCBEd V106W</text>
<text x="1694.91" y="1435.80" font-size="24.80" font-weight="bold" textLength="471.18" lengthAdjust="spacingAndGlyphs" fill="#000" stroke="#000" stroke-width="0.90" stroke-linejoin="miter" stroke-miterlimit="2">(Pos. 4–8 [<tspan font-style="italic">n</tspan> = 11,796]; Test <tspan font-style="italic">R</tspan> = 0.4006)</text>
<g clip-path="url(#clipc3)">
<text transform="matrix(0.88389 0 0 3.19675 1897.481 1724.762)" font-size="100" font-weight="bold" fill="#cccccc">A</text>
<text transform="matrix(0.90699 0 0 0.16251 1709.212 1614.637)" font-size="100" font-weight="bold" fill="#5a5aff">C</text>
<text transform="matrix(0.87877 0 0 0.45627 1709.328 1602.402)" font-size="100" font-weight="bold" fill="#ffd45c">G</text>
<text transform="matrix(0.88389 0 0 0.08040 1710.731 1620.327)" font-size="100" font-weight="bold" fill="#ff5c5c">A</text>
<text transform="matrix(1.00702 0 0 0.56281 1711.801 1659.048)" font-size="100" font-weight="bold" fill="#70d070">T</text>
<text transform="matrix(0.87877 0 0 0.62502 1771.578 1614.185)" font-size="100" font-weight="bold" fill="#ffd45c">G</text>
<text transform="matrix(1.00702 0 0 0.17045 1774.051 1626.522)" font-size="100" font-weight="bold" fill="#70d070">T</text>
<text transform="matrix(0.88389 0 0 0.20904 1772.981 1640.904)" font-size="100" font-weight="bold" fill="#ff5c5c">A</text>
<text transform="matrix(0.90699 0 0 0.26563 1771.462 1659.452)" font-size="100" font-weight="bold" fill="#5a5aff">C</text>
<text transform="matrix(1.00702 0 0 1.11597 1836.301 1614.796)" font-size="100" font-weight="bold" fill="#70d070">T</text>
<text transform="matrix(0.90699 0 0 1.19067 1833.712 1536.856)" font-size="100" font-weight="bold" fill="#5a5aff">C</text>
<text transform="matrix(0.87877 0 0 0.35626 1833.828 1640.335)" font-size="100" font-weight="bold" fill="#ffd45c">G</text>
<text transform="matrix(0.88389 0 0 1.97144 1835.231 1776.316)" font-size="100" font-weight="bold" fill="#ff5c5c">A</text>
<text transform="matrix(1.00702 0 0 0.34733 1960.801 1614.796)" font-size="100" font-weight="bold" fill="#70d070">T</text>
<text transform="matrix(0.90699 0 0 0.42814 1958.212 1590.481)" font-size="100" font-weight="bold" fill="#5a5aff">C</text>
<text transform="matrix(0.87877 0 0 0.03750 1958.328 1617.414)" font-size="100" font-weight="bold" fill="#ffd45c">G</text>
<text transform="matrix(0.88389 0 0 0.73969 1959.731 1668.341)" font-size="100" font-weight="bold" fill="#ff5c5c">A</text>
<text transform="matrix(0.87877 0 0 0.87503 2020.578 1613.941)" font-size="100" font-weight="bold" fill="#ffd45c">G</text>
<text transform="matrix(1.00702 0 0 0.01286 2023.051 1615.238)" font-size="100" font-weight="bold" fill="#70d070">T</text>
<text transform="matrix(0.90699 0 0 0.37501 2020.462 1641.644)" font-size="100" font-weight="bold" fill="#5a5aff">C</text>
<text transform="matrix(0.88389 0 0 0.49849 2021.981 1676.306)" font-size="100" font-weight="bold" fill="#ff5c5c">A</text>
<text transform="matrix(0.87877 0 0 0.75628 2082.828 1614.057)" font-size="100" font-weight="bold" fill="#ffd45c">G</text>
<text transform="matrix(0.88389 0 0 0.04181 2084.231 1617.672)" font-size="100" font-weight="bold" fill="#ff5c5c">A</text>
<text transform="matrix(0.90699 0 0 0.22501 2082.712 1633.383)" font-size="100" font-weight="bold" fill="#5a5aff">C</text>
<text transform="matrix(1.00702 0 0 0.49849 2085.301 1667.898)" font-size="100" font-weight="bold" fill="#70d070">T</text>
<line x1="1712.50" y1="1614.80" x2="2145.50" y2="1614.80" stroke="#555" stroke-width="0.70"/>
</g>
<rect x="1712.50" y="1454.45" width="433.00" height="321.00" fill="none" stroke="#1c1c1c" stroke-width="1.15"/>
<line x1="1706.50" y1="1482.48" x2="1712.50" y2="1482.48" stroke="#2b2b2b" stroke-width="1.20"/>
<text x="1670.67" y="1489.58" font-size="19.80" textLength="29.57" lengthAdjust="spacingAndGlyphs" fill="#000">0.6</text>
<line x1="1706.50" y1="1526.73" x2="1712.50" y2="1526.73" stroke="#2b2b2b" stroke-width="1.20"/>
<text x="1670.68" y="1533.83" font-size="19.80" textLength="29.24" lengthAdjust="spacingAndGlyphs" fill="#000">0.4</text>
<line x1="1706.50" y1="1570.54" x2="1712.50" y2="1570.54" stroke="#2b2b2b" stroke-width="1.20"/>
<text x="1670.67" y="1577.64" font-size="19.80" textLength="29.71" lengthAdjust="spacingAndGlyphs" fill="#000">0.2</text>
<line x1="1706.50" y1="1614.80" x2="1712.50" y2="1614.80" stroke="#2b2b2b" stroke-width="1.20"/>
<text x="1687.62" y="1621.90" font-size="19.80" textLength="12.57" lengthAdjust="spacingAndGlyphs" fill="#000">0</text>
<line x1="1706.50" y1="1658.61" x2="1712.50" y2="1658.61" stroke="#2b2b2b" stroke-width="1.20"/>
<text x="1661.02" y="1665.71" font-size="19.80" textLength="39.28" lengthAdjust="spacingAndGlyphs" fill="#000">−0.2</text>
<line x1="1706.50" y1="1702.64" x2="1712.50" y2="1702.64" stroke="#2b2b2b" stroke-width="1.20"/>
<text x="1661.03" y="1709.74" font-size="19.80" textLength="38.85" lengthAdjust="spacingAndGlyphs" fill="#000">−0.4</text>
<line x1="1706.50" y1="1746.45" x2="1712.50" y2="1746.45" stroke="#2b2b2b" stroke-width="1.20"/>
<text x="1661.02" y="1753.55" font-size="19.80" textLength="39.15" lengthAdjust="spacingAndGlyphs" fill="#000">−0.6</text>
<line x1="1742.58" y1="1775.45" x2="1742.58" y2="1781.05" stroke="#2b2b2b" stroke-width="1.20"/>
<text x="1732.19" y="1803.20" font-size="19.80" textLength="20.69" lengthAdjust="spacingAndGlyphs" fill="#000">−3</text>
<line x1="1804.83" y1="1775.45" x2="1804.83" y2="1781.05" stroke="#2b2b2b" stroke-width="1.20"/>
<text x="1794.43" y="1803.20" font-size="19.80" textLength="20.82" lengthAdjust="spacingAndGlyphs" fill="#000">−2</text>
<line x1="1867.08" y1="1775.45" x2="1867.08" y2="1781.05" stroke="#2b2b2b" stroke-width="1.20"/>
<text x="1858.05" y="1803.20" font-size="19.80" textLength="18.05" lengthAdjust="spacingAndGlyphs" fill="#000">−1</text>
<line x1="1991.58" y1="1775.45" x2="1991.58" y2="1781.05" stroke="#2b2b2b" stroke-width="1.20"/>
<text x="1987.39" y="1803.20" font-size="19.80" textLength="8.00" lengthAdjust="spacingAndGlyphs" fill="#000">1</text>
<line x1="2053.83" y1="1775.45" x2="2053.83" y2="1781.05" stroke="#2b2b2b" stroke-width="1.20"/>
<text x="2047.48" y="1803.20" font-size="19.80" textLength="12.70" lengthAdjust="spacingAndGlyphs" fill="#000">2</text>
<line x1="2116.08" y1="1775.45" x2="2116.08" y2="1781.05" stroke="#2b2b2b" stroke-width="1.20"/>
<text x="2110.05" y="1803.20" font-size="19.80" textLength="12.20" lengthAdjust="spacingAndGlyphs" fill="#000">3</text>
<text x="1818.14" y="1837.50" font-size="24.00" textLength="220.83" lengthAdjust="spacingAndGlyphs" fill="#000">Position relative to A</text>
</g>
</g>
</svg>
</body>
</html>
